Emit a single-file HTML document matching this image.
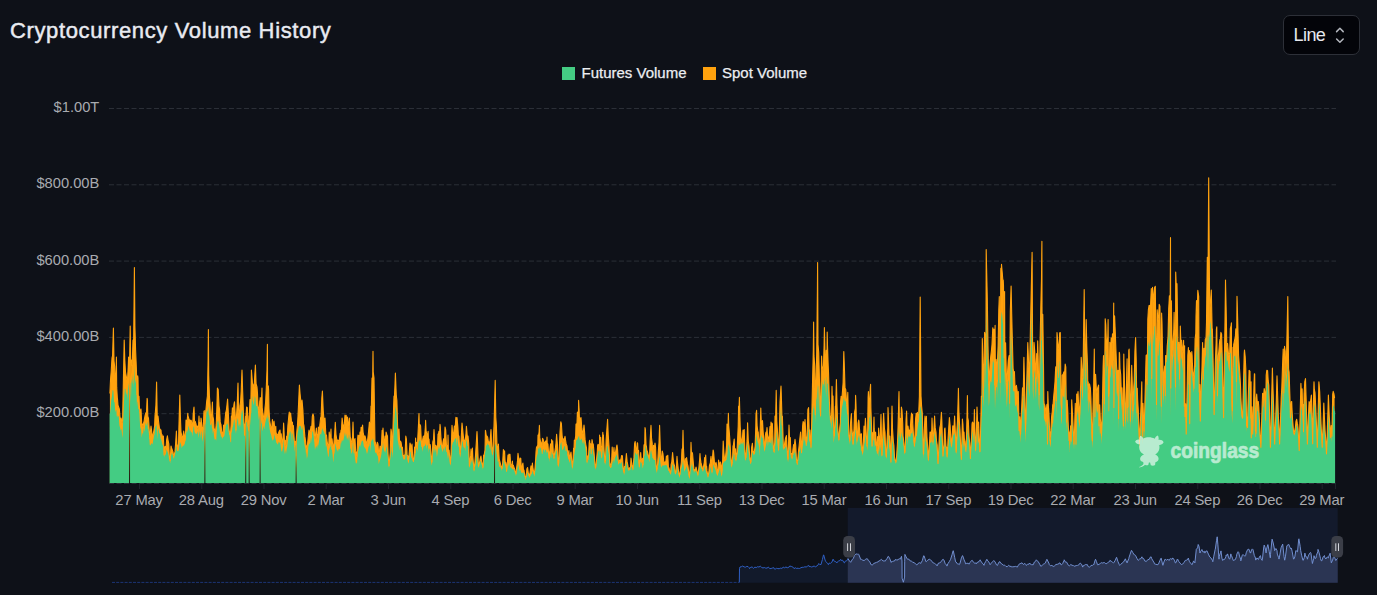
<!DOCTYPE html>
<html><head><meta charset="utf-8"><title>Cryptocurrency Volume History</title>
<style>
html,body{margin:0;padding:0;background:#0e1118;}
body{width:1377px;height:595px;position:relative;overflow:hidden;font-family:"Liberation Sans",sans-serif;}
.ax{font-family:"Liberation Sans",sans-serif;font-size:14.7px;fill:#a9abb0;}
.xl{font-size:14.8px;letter-spacing:-0.18px;}
.title{position:absolute;left:10px;top:16.5px;font-size:22px;line-height:28px;color:#e9ebf1;letter-spacing:0.63px;-webkit-text-stroke:0.45px #e9ebf1;white-space:nowrap;}
.btn{position:absolute;left:1283px;top:15px;width:75px;height:38px;border:1px solid #2d3038;border-radius:7px;background:#030409;}
.btn span{position:absolute;left:9.6px;top:8px;font-size:18px;line-height:22px;color:#e6e8ee;letter-spacing:-0.6px;}
.btn svg{position:absolute;left:50.1px;top:10px;}
.lg{position:absolute;top:64px;font-size:15px;line-height:18px;color:#eceef2;white-space:nowrap;-webkit-text-stroke:0.25px #eceef2;}
.sq{position:absolute;top:67.4px;width:12.6px;height:12.4px;}
</style></head><body>
<svg width="1377" height="595" viewBox="0 0 1377 595" style="position:absolute;left:0;top:0">
<line x1="109" x2="1336" y1="108.5" y2="108.5" stroke="#2b2f37" stroke-width="1" stroke-dasharray="5 2.5"/>
<line x1="109" x2="1336" y1="184.8" y2="184.8" stroke="#2b2f37" stroke-width="1" stroke-dasharray="5 2.5"/>
<line x1="109" x2="1336" y1="261.1" y2="261.1" stroke="#2b2f37" stroke-width="1" stroke-dasharray="5 2.5"/>
<line x1="109" x2="1336" y1="337.4" y2="337.4" stroke="#2b2f37" stroke-width="1" stroke-dasharray="5 2.5"/>
<line x1="109" x2="1336" y1="413.7" y2="413.7" stroke="#2b2f37" stroke-width="1" stroke-dasharray="5 2.5"/>
<line x1="109" x2="1336" y1="483.5" y2="483.5" stroke="#2b2f37" stroke-width="1" stroke-dasharray="5 2.5"/>
<text x="99.3" y="111.9" text-anchor="end" class="ax">$1.00T</text>
<text x="99.3" y="188.2" text-anchor="end" class="ax">$800.00B</text>
<text x="99.3" y="264.5" text-anchor="end" class="ax">$600.00B</text>
<text x="99.3" y="340.8" text-anchor="end" class="ax">$400.00B</text>
<text x="99.3" y="417.1" text-anchor="end" class="ax">$200.00B</text>
<line x1="139.5" x2="139.5" y1="483.5" y2="489" stroke="#20242c" stroke-width="1"/>
<text x="139.1" y="504.9" text-anchor="middle" class="ax xl">27 May</text>
<line x1="201.8" x2="201.8" y1="483.5" y2="489" stroke="#20242c" stroke-width="1"/>
<text x="201.3" y="504.9" text-anchor="middle" class="ax xl">28 Aug</text>
<line x1="264.0" x2="264.0" y1="483.5" y2="489" stroke="#20242c" stroke-width="1"/>
<text x="263.6" y="504.9" text-anchor="middle" class="ax xl">29 Nov</text>
<line x1="326.2" x2="326.2" y1="483.5" y2="489" stroke="#20242c" stroke-width="1"/>
<text x="325.9" y="504.9" text-anchor="middle" class="ax xl">2 Mar</text>
<line x1="388.5" x2="388.5" y1="483.5" y2="489" stroke="#20242c" stroke-width="1"/>
<text x="388.1" y="504.9" text-anchor="middle" class="ax xl">3 Jun</text>
<line x1="450.8" x2="450.8" y1="483.5" y2="489" stroke="#20242c" stroke-width="1"/>
<text x="450.4" y="504.9" text-anchor="middle" class="ax xl">4 Sep</text>
<line x1="513.0" x2="513.0" y1="483.5" y2="489" stroke="#20242c" stroke-width="1"/>
<text x="512.6" y="504.9" text-anchor="middle" class="ax xl">6 Dec</text>
<line x1="575.2" x2="575.2" y1="483.5" y2="489" stroke="#20242c" stroke-width="1"/>
<text x="574.9" y="504.9" text-anchor="middle" class="ax xl">9 Mar</text>
<line x1="637.5" x2="637.5" y1="483.5" y2="489" stroke="#20242c" stroke-width="1"/>
<text x="637.1" y="504.9" text-anchor="middle" class="ax xl">10 Jun</text>
<line x1="699.8" x2="699.8" y1="483.5" y2="489" stroke="#20242c" stroke-width="1"/>
<text x="699.4" y="504.9" text-anchor="middle" class="ax xl">11 Sep</text>
<line x1="762.0" x2="762.0" y1="483.5" y2="489" stroke="#20242c" stroke-width="1"/>
<text x="761.6" y="504.9" text-anchor="middle" class="ax xl">13 Dec</text>
<line x1="824.2" x2="824.2" y1="483.5" y2="489" stroke="#20242c" stroke-width="1"/>
<text x="823.9" y="504.9" text-anchor="middle" class="ax xl">15 Mar</text>
<line x1="886.5" x2="886.5" y1="483.5" y2="489" stroke="#20242c" stroke-width="1"/>
<text x="886.1" y="504.9" text-anchor="middle" class="ax xl">16 Jun</text>
<line x1="948.8" x2="948.8" y1="483.5" y2="489" stroke="#20242c" stroke-width="1"/>
<text x="948.4" y="504.9" text-anchor="middle" class="ax xl">17 Sep</text>
<line x1="1011.0" x2="1011.0" y1="483.5" y2="489" stroke="#20242c" stroke-width="1"/>
<text x="1010.6" y="504.9" text-anchor="middle" class="ax xl">19 Dec</text>
<line x1="1073.2" x2="1073.2" y1="483.5" y2="489" stroke="#20242c" stroke-width="1"/>
<text x="1072.8" y="504.9" text-anchor="middle" class="ax xl">22 Mar</text>
<line x1="1135.5" x2="1135.5" y1="483.5" y2="489" stroke="#20242c" stroke-width="1"/>
<text x="1135.1" y="504.9" text-anchor="middle" class="ax xl">23 Jun</text>
<line x1="1197.8" x2="1197.8" y1="483.5" y2="489" stroke="#20242c" stroke-width="1"/>
<text x="1197.3" y="504.9" text-anchor="middle" class="ax xl">24 Sep</text>
<line x1="1260.0" x2="1260.0" y1="483.5" y2="489" stroke="#20242c" stroke-width="1"/>
<text x="1259.6" y="504.9" text-anchor="middle" class="ax xl">26 Dec</text>
<line x1="1322.2" x2="1322.2" y1="483.5" y2="489" stroke="#20242c" stroke-width="1"/>
<text x="1321.8" y="504.9" text-anchor="middle" class="ax xl">29 Mar</text>
<line x1="1335.5" x2="1335.5" y1="483.5" y2="489" stroke="#20242c" stroke-width="1"/>
<path d="M109.9 483.0L109.9 393.6L110.5 380.0L111.2 371.5L112.0 358.0L112.6 355.6L113.4 328.0L114.0 361.0L114.6 366.0L115.3 382.2L116.0 374.5L116.4 357.0L116.7 387.4L117.3 397.6L117.6 400.0L118.0 405.3L118.7 407.2L119.0 408.0L119.4 409.3L120.1 419.0L120.7 421.7L121.0 418.0L121.4 419.4L122.1 423.2L122.6 420.0L123.4 380.0L124.2 340.0L124.8 360.0L125.5 372.0L126.2 376.0L127.0 380.0L127.5 379.8L128.2 367.4L128.6 357.0L128.9 363.9L129.4 372.0L130.2 326.0L130.9 378.0L131.5 360.0L132.2 365.4L133.0 340.0L133.6 346.3L134.4 267.6L134.9 325.8L135.6 350.0L136.4 369.0L137.0 394.4L137.7 375.8L138.0 378.0L138.3 397.9L139.0 396.2L139.4 406.0L139.7 411.9L140.4 411.2L141.0 409.0L141.7 423.6L142.4 424.0L143.1 427.6L143.8 421.7L144.0 422.0L144.4 419.1L145.0 416.0L145.8 412.8L146.5 412.9L147.1 398.3L147.4 400.0L147.8 416.1L148.5 418.3L149.0 426.0L149.8 438.3L150.5 431.2L151.0 426.0L152.0 434.0L152.6 438.9L153.2 434.2L154.0 430.0L154.6 426.3L155.0 416.0L155.3 412.7L155.9 405.4L156.6 382.0L157.3 420.0L158.0 416.0L158.6 421.7L159.4 428.0L160.0 429.1L160.7 430.2L161.0 430.0L161.3 433.7L162.0 434.6L162.7 440.9L163.0 436.0L163.4 436.0L164.1 454.9L164.7 446.8L165.0 452.0L165.4 446.4L166.1 447.7L166.6 440.0L167.4 435.8L168.0 440.0L168.8 443.8L169.4 458.0L170.2 460.4L171.0 446.0L171.5 447.7L172.2 449.7L173.0 452.0L173.5 454.9L174.2 455.6L175.0 451.4L175.6 443.9L176.4 431.0L176.9 443.9L177.4 446.0L178.4 448.7L178.9 427.2L179.8 395.0L180.3 414.3L181.0 432.0L181.7 435.5L182.3 439.2L183.0 436.0L183.7 431.0L184.4 439.6L184.6 442.0L185.1 435.0L185.7 431.0L186.0 420.0L186.4 420.6L187.1 421.3L187.8 413.4L188.0 416.0L188.4 417.1L189.1 419.7L190.0 420.0L190.5 421.8L191.1 420.2L192.0 424.0L192.5 430.6L193.2 414.2L194.0 407.0L194.5 421.3L195.2 421.4L196.0 424.0L196.6 427.4L197.4 426.0L197.9 429.3L198.6 425.6L199.0 416.0L199.3 423.6L199.9 422.8L200.6 430.8L201.0 418.0L201.3 420.0L202.0 426.8L202.6 430.0L203.3 426.5L204.0 411.0L204.7 415.8L205.4 414.7L206.0 409.0L206.7 401.4L207.4 396.0L208.1 359.7L208.4 329.6L208.7 374.9L209.4 396.0L210.1 404.9L210.8 424.2L211.0 422.1L211.4 416.8L212.1 407.8L212.4 402.0L212.8 415.9L213.5 419.3L214.0 428.0L214.8 430.6L215.4 432.0L216.2 424.4L216.9 406.7L217.4 388.0L218.2 389.5L219.0 406.0L219.6 409.7L220.2 421.9L220.6 424.0L220.9 424.1L221.6 430.8L222.3 433.4L223.0 434.2L223.6 425.0L224.3 429.9L225.0 420.0L225.7 412.7L226.3 410.7L227.0 404.8L227.6 399.0L228.4 414.5L229.1 429.5L229.4 432.0L229.7 431.9L230.4 434.7L231.1 424.8L231.4 416.0L231.8 417.3L232.4 407.8L233.1 412.2L234.0 404.0L234.5 401.8L235.2 414.5L236.0 430.0L236.5 415.8L237.2 404.4L238.0 383.0L238.5 409.7L239.4 416.0L239.9 405.7L240.6 401.6L241.2 391.4L242.0 370.0L242.6 389.7L243.4 412.0L243.9 420.4L244.6 435.3L245.0 424.0L245.3 425.0L246.0 415.6L246.6 407.0L247.3 407.6L248.0 426.0L248.7 423.5L249.4 414.0L250.0 399.6L250.7 412.7L251.4 370.0L252.1 378.6L252.8 388.2L253.0 384.0L253.4 390.4L254.1 386.9L254.8 375.3L255.4 365.0L256.1 383.9L257.0 387.0L257.5 393.5L258.0 406.0L258.8 411.4L259.4 406.0L260.2 397.6L260.9 399.3L261.6 397.5L262.0 388.0L262.2 407.7L262.9 413.0L263.4 416.0L264.3 421.7L265.0 408.0L265.6 402.6L266.2 390.0L267.0 369.7L267.4 344.4L267.6 385.4L268.3 385.9L268.6 390.0L269.0 409.0L269.7 420.9L270.4 424.9L271.0 428.0L271.7 429.0L272.4 419.5L273.1 427.8L273.7 423.6L274.0 421.0L274.4 424.7L275.1 431.4L275.8 426.4L276.0 432.0L276.4 434.1L277.1 435.4L278.0 434.0L278.5 432.9L279.1 431.4L280.0 430.0L280.5 436.6L281.2 433.9L282.0 444.0L282.5 442.1L283.2 435.2L283.6 423.0L283.9 427.8L284.6 445.0L285.2 440.3L286.0 446.0L286.6 436.4L287.3 435.7L287.9 425.4L288.6 418.3L289.0 414.0L289.3 412.1L290.0 419.9L290.6 413.0L291.3 419.6L292.0 431.4L292.4 422.0L292.7 426.1L293.4 425.6L294.0 436.0L294.7 446.3L295.4 441.4L296.0 443.4L296.8 431.8L297.4 425.9L298.0 416.0L298.8 398.8L299.4 385.0L300.1 394.0L300.8 400.9L301.5 410.7L302.0 400.0L302.9 410.1L303.5 424.0L304.0 426.0L304.9 436.4L305.6 441.6L306.0 446.0L306.2 445.4L306.9 449.1L307.6 443.5L308.3 436.5L309.0 430.0L309.6 433.6L310.3 431.6L311.0 426.2L311.6 431.0L312.3 416.3L313.0 414.0L313.7 416.6L314.4 433.8L315.0 440.0L315.7 433.2L316.4 428.1L317.1 440.8L317.7 434.5L318.0 434.0L318.4 427.0L319.1 432.6L319.8 425.2L320.6 418.0L321.1 416.8L321.8 398.4L322.4 391.0L323.2 410.2L324.0 420.0L324.5 422.7L325.0 418.0L325.9 435.4L326.5 435.0L327.2 441.8L328.0 446.0L328.6 450.0L329.2 432.0L329.9 437.3L330.6 436.0L331.0 429.0L331.3 443.2L332.0 438.9L332.6 444.0L333.0 446.0L333.3 452.1L334.0 442.4L334.7 433.1L335.3 422.3L335.6 428.0L336.0 434.5L336.7 439.1L337.4 440.2L338.0 442.0L338.7 440.2L339.4 439.6L340.1 433.3L340.8 432.9L341.0 430.0L341.4 431.6L342.1 418.0L342.8 423.9L343.5 426.6L344.1 426.8L345.0 415.0L345.5 422.3L346.2 415.4L347.0 424.0L347.5 417.0L348.2 427.4L348.9 422.5L349.4 418.0L350.2 437.1L350.9 438.7L351.4 442.0L352.3 442.9L353.0 422.0L353.6 442.1L354.3 440.5L355.0 438.6L355.6 450.9L356.0 452.0L356.3 454.9L357.0 456.4L357.7 438.4L358.0 435.0L358.4 442.9L359.0 435.6L359.7 438.2L360.0 432.0L360.4 439.1L361.1 427.3L361.7 429.3L362.6 425.0L363.1 432.3L363.8 435.6L364.4 436.8L365.0 436.0L365.8 439.4L366.5 443.4L367.0 444.0L367.8 438.6L368.5 432.0L369.4 422.0L369.9 424.3L370.6 428.7L371.0 406.0L371.2 414.1L372.0 378.0L372.6 387.2L373.0 351.2L373.2 371.8L374.0 378.0L374.6 420.0L375.0 444.0L375.3 441.9L376.0 446.0L376.6 447.2L377.3 442.2L378.0 444.0L378.7 454.0L379.4 451.9L380.0 446.0L380.7 447.4L381.4 445.9L382.1 430.4L382.7 434.7L383.0 428.0L383.4 435.5L384.1 443.1L384.8 441.1L385.0 436.0L385.4 446.0L386.1 432.1L387.0 435.0L387.5 436.2L388.1 454.2L389.0 466.0L389.5 460.3L390.2 452.9L391.0 429.0L391.5 432.0L392.4 452.0L392.9 431.5L393.6 407.2L394.0 396.0L394.2 401.3L394.9 386.7L395.4 373.0L396.3 395.9L396.6 398.0L396.9 400.6L397.6 425.5L398.0 432.0L398.3 440.7L399.0 429.0L399.7 444.3L400.3 441.0L401.0 442.0L401.7 446.7L402.4 447.3L403.0 454.8L403.7 456.7L404.0 456.0L404.4 455.4L405.1 454.4L405.8 436.1L406.4 439.0L407.1 455.3L407.8 455.7L408.4 462.0L409.1 454.9L410.0 443.0L410.5 444.8L411.2 449.1L412.0 444.0L412.5 453.8L413.0 460.0L413.9 459.6L414.6 447.0L415.2 452.7L415.6 438.0L415.9 447.7L416.6 442.2L417.0 444.8L417.3 449.3L417.9 435.5L418.6 422.4L419.0 413.6L419.3 427.1L420.0 424.6L420.6 426.0L421.3 440.8L422.0 441.1L422.4 446.0L422.7 439.4L423.4 436.2L424.0 436.0L424.7 435.3L425.4 426.4L425.6 420.4L426.1 431.1L426.7 433.1L427.0 438.0L427.4 438.8L428.1 431.3L428.8 447.5L429.0 439.0L429.4 445.8L430.1 444.5L430.4 446.0L430.8 451.5L431.5 462.3L432.0 462.0L432.8 442.0L433.5 439.4L434.0 429.6L434.9 447.2L435.5 445.3L436.0 446.0L436.9 446.3L437.6 445.1L438.0 434.0L438.2 436.7L438.9 431.3L439.6 435.2L440.0 424.4L440.3 426.7L440.9 437.0L441.6 446.0L442.3 448.4L443.0 442.0L443.7 438.7L444.3 443.2L445.0 427.0L445.7 429.8L446.4 444.7L447.0 446.0L447.7 452.0L448.0 435.0L448.4 451.1L449.1 450.1L449.8 458.3L450.4 464.0L451.1 452.2L452.0 425.4L452.5 431.8L453.1 434.3L453.6 434.0L454.4 426.0L455.2 426.8L455.9 417.3L456.5 432.5L457.0 417.6L457.9 427.3L458.6 440.1L459.0 436.0L459.2 440.0L460.0 454.0L460.6 447.7L461.3 436.7L462.0 423.0L462.6 428.9L463.3 436.1L464.0 440.0L464.6 440.6L465.3 440.4L466.0 433.5L466.4 426.4L466.7 429.2L467.4 437.8L468.0 436.0L468.7 443.2L469.4 466.0L470.1 460.1L470.7 455.4L471.0 449.0L471.4 458.1L472.1 453.6L472.4 448.0L472.8 456.7L473.4 462.9L474.0 470.0L474.8 463.6L475.5 455.6L476.2 444.4L477.0 431.6L477.5 442.2L478.4 466.0L478.9 463.1L479.5 462.9L480.2 458.7L481.0 456.0L481.6 461.4L482.2 464.1L483.0 467.3L483.6 455.3L484.3 454.2L485.0 450.0L485.4 430.4L485.6 430.9L486.3 435.8L487.0 436.0L487.7 437.4L488.3 441.4L489.0 442.0L489.7 444.0L490.4 437.6L491.0 429.6L491.7 446.8L492.4 454.0L493.1 445.1L493.8 429.9L494.0 426.0L494.4 412.0L495.2 380.4L495.8 417.6L496.4 426.0L497.1 449.2L497.4 454.0L497.8 449.2L498.4 444.0L499.2 459.1L500.0 462.0L500.5 464.1L501.2 467.5L501.6 467.9L501.9 467.7L502.6 463.8L503.4 449.6L503.9 453.7L504.6 450.9L505.0 460.0L505.3 462.5L505.9 462.5L506.4 468.0L506.6 471.2L507.3 463.5L508.0 455.0L508.6 462.4L509.0 454.0L509.3 457.2L510.0 454.4L510.7 464.9L511.0 466.0L511.4 464.8L512.0 464.5L512.4 461.0L512.7 465.1L513.4 465.3L514.1 467.9L514.4 468.0L514.8 470.0L515.4 472.4L516.0 473.2L516.8 466.4L517.5 460.9L518.0 453.4L518.8 459.7L519.5 464.3L520.0 458.0L520.8 458.5L521.4 471.0L522.4 465.0L522.9 463.1L523.5 470.4L524.0 470.0L524.2 471.8L524.9 475.7L525.6 477.4L526.2 475.8L526.9 468.8L527.6 467.6L528.3 473.0L529.0 474.4L529.6 476.4L530.3 470.6L531.0 465.9L531.7 471.4L532.4 463.0L533.0 468.7L533.7 471.8L534.4 473.9L535.1 467.4L535.7 458.3L536.0 452.0L536.4 447.7L537.1 446.3L537.8 445.4L538.0 435.0L538.4 437.2L539.1 431.6L539.4 425.4L539.8 438.2L540.5 441.4L541.0 442.0L541.8 449.9L542.5 438.3L543.0 439.0L543.9 442.7L544.5 444.9L545.0 442.0L545.9 440.9L546.6 446.2L547.0 437.0L547.2 443.5L547.9 444.0L548.6 453.3L549.0 452.0L549.3 458.2L550.0 448.4L550.6 443.9L551.3 451.1L551.6 439.6L552.0 445.3L552.7 440.8L553.3 452.9L554.0 458.0L554.7 452.5L555.4 447.9L556.0 443.0L556.6 434.4L557.4 444.6L558.1 465.1L558.4 464.8L558.8 462.6L559.4 446.5L560.0 432.0L560.8 421.7L561.4 423.6L562.1 435.5L563.0 442.0L563.5 438.9L564.2 439.9L565.0 436.4L565.5 439.9L566.2 443.9L567.0 446.0L567.5 451.2L568.4 456.0L568.9 450.5L569.6 460.9L570.3 455.4L571.0 452.0L571.6 459.0L572.4 467.3L573.0 460.1L573.6 448.1L574.0 450.0L574.3 440.2L575.0 440.5L575.7 435.9L576.0 424.0L576.4 426.1L577.0 422.7L577.4 412.0L577.7 416.4L578.4 414.5L578.6 400.4L579.1 409.5L579.7 426.3L580.0 418.0L580.4 423.7L581.0 417.6L581.8 428.2L582.4 432.0L583.1 434.3L584.0 425.0L584.5 430.8L585.1 439.9L586.0 446.0L586.5 448.0L587.0 462.0L587.9 455.8L588.5 456.2L589.2 442.6L589.6 440.4L589.9 443.9L590.6 443.7L591.0 446.0L591.2 453.4L592.0 439.6L592.6 442.9L593.3 444.5L594.0 452.0L594.6 459.6L595.3 467.1L595.6 467.8L596.0 465.7L596.7 457.8L597.3 451.5L597.6 446.0L598.0 444.3L598.7 445.1L599.4 450.1L599.6 435.0L600.0 443.1L600.7 437.3L601.0 450.0L601.4 447.0L602.1 446.6L602.8 432.4L603.0 435.6L603.4 435.0L604.1 450.5L605.0 462.4L605.5 460.9L606.1 440.3L606.4 436.0L606.8 430.4L607.6 419.2L608.2 434.6L609.0 446.0L609.5 456.7L610.0 466.0L610.9 464.5L611.6 462.1L612.0 452.0L612.2 447.0L612.9 460.2L613.6 452.6L614.0 447.6L614.3 456.8L614.9 452.4L615.6 452.0L616.3 447.8L617.0 445.0L617.6 450.0L618.3 461.2L619.0 462.0L619.7 459.9L620.4 461.0L621.0 459.0L621.6 455.6L622.4 455.8L623.1 467.6L623.7 472.0L624.0 472.1L624.4 466.6L625.1 466.3L625.8 460.1L626.4 453.6L627.1 461.4L627.8 465.1L628.4 469.3L629.2 468.2L629.8 467.8L630.5 467.2L631.0 458.0L631.9 464.4L632.5 467.5L633.0 469.2L633.2 466.0L633.9 457.9L634.6 443.6L635.2 441.5L636.0 452.3L636.6 449.8L637.3 442.8L637.6 443.0L638.0 452.0L638.6 450.4L639.0 462.7L639.3 466.6L640.0 460.8L640.7 452.6L641.0 457.0L641.4 459.3L642.0 461.8L642.7 458.2L643.0 464.8L643.4 460.9L644.0 444.7L644.7 446.9L645.0 427.6L645.4 429.7L646.1 445.4L646.4 446.0L646.8 450.1L647.4 451.5L648.1 454.4L649.0 456.0L649.5 457.3L650.1 441.3L651.0 425.4L651.5 437.8L652.2 443.1L652.4 454.0L652.9 452.5L653.5 445.4L654.2 449.0L655.0 443.0L655.6 447.6L656.2 466.5L656.6 470.0L656.9 468.7L657.6 463.8L658.0 457.0L658.3 451.5L659.0 442.8L659.6 425.4L660.3 447.5L661.0 459.0L661.4 466.0L661.6 461.2L662.3 451.1L663.0 454.0L663.7 461.4L664.4 463.6L665.0 461.7L665.7 463.1L666.4 456.0L667.0 457.0L667.8 455.2L668.4 466.7L669.0 468.0L669.8 471.3L670.6 473.3L671.1 464.7L671.8 461.8L672.6 452.6L673.2 459.0L673.8 463.7L674.6 466.0L675.2 473.0L676.0 472.3L676.5 466.0L677.0 456.4L677.2 459.5L677.9 466.1L678.6 471.7L679.4 475.1L679.9 474.4L680.6 467.8L681.4 462.0L682.0 448.9L682.6 448.7L683.0 430.4L683.3 445.0L684.0 458.4L684.6 470.0L685.4 458.9L686.0 459.0L686.6 457.6L687.4 463.9L688.0 466.0L688.7 471.7L689.4 477.1L690.1 469.0L690.8 453.5L691.0 442.4L691.4 453.4L692.1 452.4L692.6 454.0L693.5 465.1L694.0 470.0L694.8 469.8L695.5 469.7L696.0 467.0L696.9 470.8L697.5 473.5L698.0 474.3L698.9 467.6L699.6 459.7L700.0 453.6L700.2 457.3L700.9 462.2L701.6 465.5L702.0 466.0L702.3 468.8L703.0 470.0L703.6 466.0L704.3 462.2L704.6 457.6L705.0 462.3L705.7 455.0L706.3 467.8L706.6 466.0L707.0 470.9L707.7 474.7L708.0 475.9L708.4 474.9L709.0 470.5L709.4 466.0L709.7 464.8L710.4 462.4L711.0 456.4L711.8 469.4L712.0 472.0L712.4 459.1L713.1 450.0L713.6 452.0L714.5 462.7L715.0 466.0L716.0 462.4L716.5 464.8L717.2 473.5L717.4 474.0L717.9 470.6L718.6 460.0L719.2 464.1L720.0 463.0L720.5 462.1L721.2 465.4L721.6 474.8L721.9 470.8L722.6 461.9L723.2 441.0L723.9 453.1L724.6 459.5L725.3 458.5L726.0 452.0L726.6 445.4L727.0 424.0L727.3 440.0L728.0 425.6L728.4 413.4L728.7 425.6L729.4 433.2L730.0 442.0L730.7 455.4L731.6 466.0L732.1 461.4L732.7 455.8L733.0 446.0L733.4 445.1L734.2 439.0L734.8 454.3L735.5 448.8L736.0 460.0L737.0 452.0L737.5 441.4L738.2 426.4L738.6 406.0L738.8 414.5L739.4 397.4L740.2 426.6L740.6 432.0L740.9 437.1L741.4 441.0L742.2 441.2L743.0 430.0L743.6 431.3L744.2 429.6L744.9 450.4L745.6 457.7L746.0 457.3L746.3 452.6L747.0 440.9L747.4 429.6L747.6 422.7L748.3 441.0L749.0 446.0L749.7 456.4L750.4 461.2L751.0 462.1L751.6 447.6L752.4 443.2L753.0 450.9L753.4 451.6L753.7 453.7L754.6 450.0L755.1 446.1L755.8 426.2L756.0 414.0L756.6 410.4L757.1 425.7L757.8 431.2L758.2 432.0L758.5 436.7L759.1 441.7L759.4 446.0L759.8 445.0L760.5 418.5L760.8 408.0L761.2 419.7L762.0 430.0L762.5 420.5L763.0 429.6L763.9 442.3L764.6 450.0L765.2 436.1L766.0 432.0L766.6 434.1L767.0 427.6L767.3 432.2L767.9 441.4L768.6 438.0L769.3 435.1L769.6 432.0L770.0 426.6L770.6 432.1L771.0 422.0L771.3 436.6L772.0 423.1L772.4 424.0L772.7 431.7L773.4 449.1L774.0 449.9L774.7 442.5L775.0 416.0L775.4 430.4L776.2 390.4L776.8 421.1L777.4 430.0L778.1 443.5L778.6 450.0L779.5 426.3L780.0 402.0L781.0 386.0L781.5 401.1L782.2 424.9L782.4 416.0L782.8 429.4L783.4 448.0L784.2 446.2L785.0 441.0L785.5 438.3L786.4 435.6L786.9 445.0L787.6 456.8L788.0 459.2L788.2 458.5L789.0 425.0L789.6 440.8L790.3 437.6L790.6 446.0L791.0 454.3L791.6 453.7L792.0 458.0L792.3 455.8L793.0 448.8L793.4 446.0L793.7 444.6L794.4 445.0L795.0 439.4L795.7 445.0L796.4 459.0L797.0 462.7L797.7 460.1L798.6 450.0L799.1 445.9L799.8 439.1L800.6 432.0L801.1 445.9L801.6 452.4L802.6 426.0L803.1 421.6L804.0 423.0L804.5 432.3L805.0 419.6L805.9 436.3L806.6 442.0L807.2 435.7L807.9 409.4L808.6 407.6L809.2 431.4L810.0 430.0L810.6 441.5L811.0 447.2L811.3 441.8L812.0 406.0L812.6 378.9L813.3 350.2L813.6 322.0L814.0 355.9L814.7 365.8L815.3 414.6L815.6 404.0L816.0 380.1L816.7 354.1L817.4 289.8L817.6 262.6L818.0 344.6L818.7 352.1L819.4 378.0L820.1 408.7L820.6 415.6L821.6 356.0L822.1 368.1L822.8 367.4L823.0 372.0L823.5 364.5L824.1 345.1L824.4 327.6L824.8 344.0L825.5 379.7L825.8 368.0L826.2 350.4L826.8 376.2L827.2 332.0L827.5 345.4L828.2 365.8L828.5 372.0L828.9 385.1L829.4 402.0L830.4 420.0L830.9 417.7L831.6 415.2L832.0 386.4L832.3 398.1L833.0 396.0L833.6 426.6L834.4 436.0L835.0 419.6L835.4 406.0L835.6 409.9L836.4 379.6L837.0 404.3L837.4 416.0L837.7 426.7L838.4 435.8L839.0 439.6L839.7 427.7L840.4 422.4L840.6 402.0L841.1 396.3L841.7 401.6L842.0 398.0L842.4 392.1L843.1 382.8L843.8 351.6L844.5 370.6L845.0 388.0L845.8 389.8L846.6 404.0L847.1 405.8L847.8 392.4L848.5 424.9L849.0 436.0L849.9 440.9L850.5 423.5L851.4 413.6L851.9 428.8L852.6 436.0L853.0 444.0L853.2 434.2L853.9 431.0L854.6 412.0L855.3 408.6L855.6 395.4L856.0 404.4L856.6 433.5L857.0 440.0L857.3 439.8L858.0 423.4L858.7 420.1L859.0 421.4L859.3 426.6L860.0 434.7L860.7 437.7L861.0 434.0L861.4 433.8L862.0 448.4L862.6 453.0L863.4 441.8L864.0 426.0L864.8 430.2L865.4 418.4L866.1 430.8L867.0 446.0L867.5 442.6L868.1 397.6L868.4 391.6L868.8 403.6L869.4 406.0L870.2 388.9L870.6 384.4L870.9 408.3L871.5 425.2L872.0 446.0L872.9 432.4L873.6 431.8L874.0 417.0L874.2 428.4L874.9 439.0L875.6 432.0L876.3 443.1L877.0 450.8L877.6 436.6L878.3 445.8L878.6 428.0L879.0 434.8L879.6 442.4L880.0 440.0L880.3 435.2L881.0 414.4L881.7 447.1L882.0 455.2L882.4 446.5L883.0 428.7L883.6 413.4L884.4 428.3L885.0 432.0L885.7 451.4L886.4 457.0L887.1 439.4L887.8 427.8L888.0 407.6L888.5 419.9L889.1 438.8L889.4 440.0L889.8 436.0L890.5 450.8L891.0 462.0L892.0 406.0L892.5 428.6L893.4 442.0L893.9 445.6L894.5 457.3L895.2 460.4L896.0 462.0L896.6 456.1L897.4 444.0L897.9 431.2L898.6 406.7L899.0 391.6L899.3 418.2L900.0 418.2L900.6 436.0L901.4 407.0L902.0 410.2L902.7 423.2L903.0 436.0L903.3 438.1L904.0 443.8L904.7 452.7L905.0 452.0L905.4 444.6L906.0 420.5L906.6 411.0L907.4 437.4L908.0 426.0L908.8 433.0L909.4 430.0L910.1 431.4L911.0 418.0L911.5 413.1L912.1 422.6L912.6 414.4L912.8 423.7L913.5 435.3L914.2 442.1L914.4 446.0L914.9 438.0L915.6 419.0L916.2 413.4L916.9 417.2L917.4 412.4L918.2 421.7L918.6 417.5L918.9 408.2L919.4 396.0L920.2 297.0L921.0 396.0L921.6 406.0L922.3 413.1L923.0 441.4L923.4 454.0L923.6 453.9L924.3 429.8L925.0 416.0L925.7 426.0L926.4 416.3L926.6 426.0L927.0 437.3L927.7 447.7L928.4 460.0L929.1 448.9L929.8 437.4L930.0 432.0L930.4 434.1L931.1 431.9L931.8 430.2L932.0 418.0L932.5 432.1L933.0 442.0L933.8 430.6L934.6 416.0L935.2 427.9L936.0 432.0L936.5 440.8L937.2 445.0L938.0 463.4L938.5 454.4L939.2 439.5L939.6 430.0L939.9 427.3L940.6 424.3L941.4 412.4L941.9 422.1L942.6 446.7L943.0 456.0L943.3 451.4L944.0 444.5L944.6 429.1L945.0 428.0L945.3 435.5L946.0 446.5L946.7 447.3L947.0 456.3L947.4 454.4L948.0 439.9L948.7 428.6L949.4 417.6L950.1 425.0L950.7 437.4L951.4 446.0L952.1 436.2L952.8 425.9L953.0 426.0L953.4 427.2L954.1 425.3L954.6 416.0L955.5 435.6L956.1 452.3L956.4 450.0L956.8 432.2L957.5 421.1L958.2 397.3L958.4 388.4L958.9 411.3L959.5 423.6L960.0 430.0L960.9 451.6L961.4 459.3L962.4 419.0L962.9 424.4L963.6 439.5L964.0 432.0L964.3 438.3L965.0 441.4L965.6 450.0L966.3 443.8L967.0 415.9L967.4 395.6L967.7 417.7L968.3 420.5L969.0 436.0L969.7 443.2L970.4 458.5L970.6 452.4L971.0 446.7L971.7 434.6L972.0 424.0L972.4 422.1L973.1 423.1L973.8 433.8L974.4 409.6L975.1 438.6L975.6 450.3L976.5 428.3L977.0 407.0L977.8 427.6L978.6 422.0L979.2 437.9L980.0 451.4L980.5 435.1L981.4 396.0L981.9 396.7L982.3 338.5L982.5 345.1L983.2 379.5L983.6 388.3L983.9 371.1L984.6 332.3L985.3 336.9L985.9 359.3L986.2 249.5L986.6 268.1L987.3 298.4L988.0 345.6L988.8 384.8L989.3 377.4L990.0 365.1L990.5 358.8L991.4 350.9L992.0 344.5L992.8 327.7L993.4 331.6L994.1 329.2L994.7 384.9L995.1 325.4L995.4 389.8L996.1 359.4L996.8 368.0L997.0 381.6L997.5 360.6L998.1 345.7L998.8 309.5L999.3 296.5L1000.2 382.4L1000.8 268.4L1001.3 274.6L1001.5 264.4L1002.2 272.3L1002.9 280.8L1003.2 280.0L1003.5 285.6L1004.2 357.6L1004.6 291.6L1004.9 371.0L1005.6 342.8L1006.2 368.7L1006.5 381.7L1006.9 382.4L1007.6 371.0L1008.3 360.5L1009.1 355.5L1009.6 403.2L1010.3 311.3L1011.1 286.1L1011.7 313.7L1012.3 338.3L1013.1 368.6L1013.7 372.1L1014.4 371.6L1015.0 386.2L1015.7 388.3L1016.4 385.3L1017.1 390.6L1017.8 395.9L1018.3 391.6L1019.1 430.4L1019.8 416.7L1020.6 434.1L1021.1 418.7L1021.8 404.5L1022.5 387.9L1023.2 395.4L1023.9 357.2L1024.5 382.7L1025.2 420.4L1025.5 430.9L1025.9 418.6L1026.6 387.9L1027.2 364.5L1027.8 342.6L1028.6 362.9L1029.5 375.1L1029.9 354.6L1030.6 320.2L1031.3 287.4L1032.1 252.2L1032.7 366.1L1033.3 376.8L1034.0 342.4L1034.7 350.7L1035.4 365.9L1036.0 378.4L1036.7 353.6L1037.4 355.9L1037.7 340.9L1038.1 355.7L1038.7 383.4L1039.3 394.8L1040.1 340.7L1040.8 307.4L1041.5 278.3L1041.9 241.2L1042.1 339.9L1042.8 314.4L1043.5 364.2L1043.9 401.4L1044.2 404.3L1044.8 405.1L1045.5 409.2L1045.8 414.5L1046.2 411.9L1046.9 404.2L1047.5 443.9L1047.8 391.6L1048.2 403.6L1048.9 413.1L1049.6 430.6L1050.1 440.6L1050.9 430.9L1051.6 416.8L1052.3 411.3L1052.7 404.6L1053.0 405.2L1053.6 397.5L1054.3 390.1L1055.0 381.7L1055.7 366.9L1056.3 400.8L1057.0 332.6L1057.7 341.6L1058.4 347.1L1059.0 349.0L1059.7 332.7L1060.3 332.6L1061.1 404.2L1061.8 409.1L1062.2 375.2L1063.1 374.5L1063.9 371.9L1064.5 375.3L1065.2 364.0L1065.8 367.0L1066.5 422.1L1067.2 400.3L1067.9 413.2L1068.1 421.1L1068.5 429.6L1069.2 432.7L1069.8 443.9L1070.6 425.9L1071.2 441.1L1071.7 399.8L1072.6 415.9L1073.3 431.0L1074.0 443.9L1074.6 428.6L1075.3 403.2L1076.0 444.3L1076.7 394.1L1077.3 398.8L1078.0 391.6L1078.7 406.1L1079.4 410.7L1079.6 414.5L1080.0 402.9L1080.7 382.9L1081.2 357.2L1082.1 372.1L1082.9 378.5L1083.4 346.3L1084.2 289.5L1084.8 347.9L1085.5 370.2L1086.2 319.6L1086.8 346.2L1087.5 365.2L1087.8 385.0L1088.2 381.7L1088.8 393.8L1089.5 383.8L1090.4 388.4L1090.9 398.8L1091.5 421.3L1092.4 440.7L1092.9 415.1L1093.6 388.7L1094.3 349.0L1094.9 416.8L1095.6 374.3L1096.3 388.2L1097.0 393.7L1097.6 388.2L1098.3 386.0L1098.6 385.1L1099.0 425.8L1099.7 404.8L1100.3 418.7L1101.0 424.5L1101.5 435.7L1102.4 404.9L1103.1 366.8L1103.5 355.6L1103.7 387.6L1104.4 403.7L1105.2 318.8L1105.8 324.8L1106.4 342.7L1106.8 355.5L1107.1 343.2L1107.8 336.2L1108.1 319.5L1108.5 396.2L1109.2 391.7L1109.8 342.3L1110.1 352.2L1110.5 352.8L1111.2 337.8L1112.0 342.4L1112.5 333.7L1113.2 360.2L1113.7 303.1L1113.9 407.5L1114.6 315.9L1115.3 332.6L1115.9 349.4L1116.6 366.8L1117.3 375.1L1118.0 370.3L1118.6 418.5L1119.3 352.4L1119.6 353.9L1120.0 368.5L1120.7 374.7L1121.5 398.0L1122.0 387.8L1122.7 408.2L1123.4 426.0L1123.8 354.0L1124.0 364.2L1124.7 391.2L1125.5 420.9L1126.1 404.0L1126.8 370.3L1127.1 358.9L1127.4 407.8L1128.1 406.5L1128.8 350.5L1129.1 349.0L1129.5 367.5L1130.1 404.0L1130.4 421.1L1130.8 404.5L1131.7 365.4L1132.2 381.0L1132.8 410.7L1133.7 388.2L1134.2 381.1L1134.9 351.4L1135.6 337.6L1136.2 358.9L1136.9 412.6L1137.3 388.3L1137.6 399.0L1138.3 410.0L1138.9 427.5L1139.5 440.6L1140.3 423.8L1141.0 406.1L1141.8 381.8L1142.3 436.3L1143.0 403.2L1143.7 422.5L1144.1 430.9L1145.0 399.1L1145.7 371.2L1146.1 355.5L1146.4 354.9L1147.1 384.2L1147.8 319.5L1148.4 309.5L1149.1 305.4L1149.4 309.7L1149.8 305.6L1150.5 306.8L1151.3 288.6L1151.8 378.5L1152.5 287.4L1153.3 296.5L1153.8 302.4L1154.5 287.8L1155.3 286.2L1155.9 340.5L1156.5 404.4L1157.2 309.7L1157.9 321.2L1158.6 316.7L1159.2 304.4L1159.9 306.1L1160.6 360.9L1161.3 406.2L1161.6 313.0L1162.0 322.3L1162.6 354.7L1163.3 385.0L1164.0 373.2L1164.7 366.1L1165.3 395.6L1165.6 355.5L1166.0 355.8L1166.7 358.3L1167.2 346.4L1168.0 337.0L1168.7 308.7L1169.2 300.0L1169.4 295.9L1170.1 316.9L1170.5 237.5L1170.8 387.9L1171.4 300.9L1172.1 355.3L1172.8 344.1L1173.5 334.5L1173.8 329.3L1174.1 312.2L1174.8 343.0L1175.5 386.9L1175.7 272.0L1176.2 284.9L1177.0 283.7L1177.5 316.2L1178.0 348.9L1178.9 342.3L1179.6 378.9L1180.3 326.1L1180.9 343.0L1181.6 340.4L1182.3 349.0L1183.0 352.8L1183.6 340.4L1184.3 406.3L1184.6 345.7L1185.0 416.5L1185.7 403.9L1186.2 434.0L1187.0 396.8L1187.8 355.6L1188.4 347.6L1189.0 383.9L1189.5 350.6L1189.7 423.6L1190.4 352.5L1191.1 362.0L1191.8 351.6L1192.1 355.5L1192.4 363.9L1193.1 372.0L1193.8 377.8L1194.1 375.1L1194.5 370.7L1195.1 338.9L1195.8 333.4L1196.0 316.3L1196.5 300.5L1197.2 310.8L1197.8 290.4L1198.7 296.3L1199.2 392.1L1199.9 384.5L1200.3 421.0L1200.5 415.1L1201.2 386.7L1201.9 370.2L1202.6 342.5L1203.3 379.2L1203.9 348.2L1204.6 355.5L1205.3 339.0L1206.0 338.6L1206.5 322.6L1207.3 257.2L1208.0 281.6L1208.7 177.7L1209.3 263.7L1209.8 322.3L1210.0 308.1L1210.7 300.2L1211.3 290.0L1212.1 328.3L1212.4 329.2L1212.7 342.5L1213.4 375.2L1214.1 414.4L1214.8 390.7L1215.4 360.0L1216.1 343.3L1216.4 329.4L1216.8 326.9L1217.5 395.7L1218.3 355.5L1218.8 351.6L1219.5 342.8L1220.0 339.2L1220.2 341.7L1220.9 332.4L1221.6 334.3L1222.2 355.8L1222.9 390.7L1223.6 417.6L1224.2 367.3L1224.9 328.9L1225.5 280.1L1226.3 316.4L1226.8 345.6L1227.6 343.5L1228.3 352.1L1228.8 355.5L1229.7 352.9L1230.3 328.7L1231.0 326.2L1231.4 322.8L1231.7 398.4L1232.4 410.6L1233.0 347.3L1233.4 355.5L1233.7 344.6L1234.4 341.1L1235.1 337.9L1235.4 335.9L1235.8 328.8L1236.4 381.4L1237.0 296.3L1237.8 324.1L1238.6 355.6L1239.1 362.7L1239.8 373.0L1240.5 385.4L1240.9 398.1L1241.2 403.9L1241.8 414.5L1242.6 417.7L1243.2 394.4L1243.9 366.5L1244.2 353.9L1244.5 350.1L1245.2 356.7L1245.8 368.8L1246.6 426.0L1247.3 416.8L1247.5 427.5L1247.9 407.4L1248.6 387.3L1249.1 370.3L1250.0 371.4L1250.7 417.9L1251.1 381.8L1251.3 437.7L1252.0 406.8L1252.7 434.0L1253.3 415.7L1254.0 383.9L1254.4 373.7L1254.7 373.9L1255.4 430.5L1256.1 433.2L1256.3 398.1L1256.7 394.1L1257.4 403.7L1258.3 401.5L1258.8 407.2L1259.5 421.9L1260.1 435.4L1260.9 447.2L1261.5 426.4L1262.2 403.3L1262.6 393.2L1262.8 394.6L1263.5 397.1L1264.2 388.5L1264.8 391.6L1265.5 419.9L1266.2 375.1L1266.8 370.3L1267.6 370.8L1268.2 380.7L1268.8 385.0L1269.6 414.9L1270.4 447.2L1271.0 428.0L1271.6 400.7L1272.4 368.1L1273.0 388.7L1273.7 409.2L1274.3 433.4L1274.7 444.0L1275.0 433.8L1275.7 416.9L1276.4 398.3L1277.0 375.9L1277.7 396.5L1278.4 417.4L1279.1 429.8L1279.6 443.9L1280.4 422.9L1281.2 398.2L1281.8 387.5L1282.5 366.6L1283.2 349.0L1283.8 392.8L1284.5 346.4L1285.2 351.1L1285.8 369.7L1286.2 375.0L1286.5 357.1L1287.2 325.5L1287.8 296.6L1288.6 369.2L1289.1 372.1L1289.9 396.5L1290.4 417.7L1291.3 401.7L1291.7 401.5L1291.9 407.1L1292.6 420.1L1293.3 428.5L1293.7 432.5L1294.0 433.4L1294.7 430.7L1295.3 428.2L1296.0 421.1L1296.7 419.3L1297.4 423.9L1297.6 424.3L1298.0 427.7L1298.7 439.5L1299.2 450.5L1300.1 416.2L1300.9 383.4L1301.4 394.1L1302.1 388.7L1302.8 414.8L1303.2 404.6L1303.5 431.6L1304.1 393.9L1304.8 381.7L1305.5 378.5L1306.2 400.5L1306.8 423.3L1307.4 443.9L1308.2 421.2L1309.1 401.5L1309.5 403.9L1310.2 403.7L1310.9 399.1L1311.4 395.0L1312.2 424.9L1312.7 443.8L1312.9 429.8L1313.6 397.1L1314.0 381.8L1314.3 389.2L1315.0 392.6L1315.6 404.8L1316.3 420.5L1317.0 437.0L1317.3 447.2L1317.7 434.0L1318.3 407.3L1318.9 381.8L1319.7 391.7L1320.5 411.2L1321.0 423.6L1321.7 436.6L1322.2 447.2L1322.4 439.8L1323.1 426.0L1323.8 403.1L1324.4 417.6L1325.1 431.0L1325.8 440.8L1326.5 453.8L1327.2 434.8L1327.8 415.4L1328.4 395.0L1329.2 415.2L1329.8 424.9L1330.4 437.4L1331.2 425.5L1331.9 436.2L1332.7 394.3L1333.2 391.4L1333.9 393.6L1334.6 398.1L1334.6 483.0Z" fill="#ffa20e"/>
<path d="M109.6 483.0L109.6 413.9L109.9 413.9L110.5 409.3L111.2 400.8L112.0 395.9L112.6 390.0L113.4 390.8L114.0 401.9L114.6 402.2L115.3 412.2L116.0 409.7L116.4 410.2L116.7 415.7L117.3 417.7L117.6 414.4L118.0 416.8L118.7 415.7L119.0 420.0L119.4 425.3L120.1 427.7L120.7 430.6L121.0 430.0L121.4 428.6L122.1 434.9L122.6 438.0L123.4 412.4L124.2 398.3L124.8 388.6L125.5 389.0L126.2 395.2L127.0 392.0L127.5 401.1L128.2 383.1L128.6 386.0L128.9 390.2L129.4 384.4L130.2 382.8L130.9 402.2L131.5 379.0L132.2 384.2L133.0 374.0L133.6 387.7L134.4 366.0L134.9 384.0L135.6 379.5L136.4 387.6L137.0 407.2L137.7 401.5L138.0 402.0L138.3 409.6L139.0 408.9L139.4 414.6L139.7 419.7L140.4 429.7L141.0 427.0L141.7 437.8L142.4 433.2L143.1 433.5L143.8 426.7L144.0 430.0L144.4 431.8L145.0 427.0L145.8 422.4L146.5 426.5L147.1 422.5L147.4 422.0L147.8 429.1L148.5 428.8L149.0 434.0L149.8 445.3L150.5 445.2L151.0 444.0L152.0 443.0L152.6 444.7L153.2 440.1L154.0 436.0L154.6 434.3L155.0 430.0L155.3 426.1L155.9 426.7L156.6 424.0L157.3 439.6L158.0 428.0L158.6 429.4L159.4 433.6L160.0 433.7L160.7 439.3L161.0 438.7L161.3 440.3L162.0 442.9L162.7 446.1L163.0 444.0L163.4 446.1L164.1 457.8L164.7 454.4L165.0 454.0L165.4 455.4L166.1 452.8L166.6 449.2L167.4 451.4L168.0 453.0L168.8 455.6L169.4 460.0L170.2 463.6L171.0 456.3L171.5 453.5L172.2 453.0L173.0 456.0L173.5 458.7L174.2 457.8L175.0 453.0L175.6 448.3L176.4 446.0L176.9 450.4L177.4 451.0L178.4 451.3L178.9 449.1L179.8 442.0L180.3 442.4L181.0 444.2L181.7 448.2L182.3 446.4L183.0 446.0L183.7 445.6L184.4 443.6L184.6 446.0L185.1 441.0L185.7 440.2L186.0 434.0L186.4 431.9L187.1 429.4L187.8 432.4L188.0 428.0L188.4 425.6L189.1 428.0L190.0 432.0L190.5 429.7L191.1 432.8L192.0 432.0L192.5 437.1L193.2 427.4L194.0 426.0L194.5 431.7L195.2 433.1L196.0 434.0L196.6 434.1L197.4 431.2L197.9 434.1L198.6 438.3L199.0 428.0L199.3 434.8L199.9 431.0L200.6 439.0L201.0 432.0L201.3 431.1L202.0 437.3L202.6 442.0L203.3 435.5L204.0 426.0L204.7 424.5L205.4 424.1L206.0 418.0L206.7 409.9L207.4 412.0L208.1 408.2L208.4 406.0L208.7 414.0L209.4 416.0L210.1 423.6L210.8 425.6L211.0 424.0L211.4 422.0L212.1 429.5L212.4 428.0L212.8 433.8L213.5 430.0L214.0 436.0L214.8 440.1L215.4 438.8L216.2 440.8L216.9 428.6L217.4 422.0L218.2 420.4L219.0 425.2L219.6 428.9L220.2 434.4L220.6 432.5L220.9 436.7L221.6 436.4L222.3 439.0L223.0 437.3L223.6 436.8L224.3 435.9L225.0 432.0L225.7 426.1L226.3 425.0L227.0 423.2L227.6 424.0L228.4 426.6L229.1 435.1L229.4 434.5L229.7 436.3L230.4 441.9L231.1 442.5L231.4 431.0L231.8 433.0L232.4 428.1L233.1 425.7L234.0 420.0L234.5 419.2L235.2 428.5L236.0 434.0L236.5 426.1L237.2 420.6L238.0 418.0L238.5 426.5L239.4 423.6L239.9 428.1L240.6 424.2L241.2 414.8L242.0 410.0L242.6 410.6L243.4 419.8L243.9 425.6L244.6 437.5L245.0 425.7L245.3 429.3L246.0 422.3L246.6 422.0L247.3 423.8L248.0 430.0L248.7 431.9L249.4 424.0L250.0 412.7L250.7 425.5L251.4 402.0L252.1 395.7L252.8 402.2L253.0 400.8L253.4 405.2L254.1 403.1L254.8 396.0L255.4 398.0L256.1 406.2L257.0 406.0L257.5 404.6L258.0 412.2L258.8 420.0L259.4 417.6L260.2 414.7L260.9 419.4L261.6 423.7L262.0 423.5L262.2 431.4L262.9 428.9L263.4 425.6L264.3 429.6L265.0 424.0L265.6 421.2L266.2 419.0L267.0 416.5L267.4 414.0L267.6 419.6L268.3 416.4L268.6 421.2L269.0 423.6L269.7 429.5L270.4 432.7L271.0 434.6L271.7 437.8L272.4 441.1L273.1 439.1L273.7 440.2L274.0 437.3L274.4 433.9L275.1 437.5L275.8 440.1L276.0 441.0L276.4 442.7L277.1 443.6L278.0 444.7L278.5 441.6L279.1 443.1L280.0 442.0L280.5 444.4L281.2 450.4L282.0 452.0L282.5 449.6L283.2 446.3L283.6 440.0L283.9 439.8L284.6 454.4L285.2 449.7L286.0 454.0L286.6 449.7L287.3 446.5L287.9 440.9L288.6 436.1L289.0 434.0L289.3 431.3L290.0 435.1L290.6 430.8L291.3 433.0L292.0 445.4L292.4 434.2L292.7 433.1L293.4 437.8L294.0 441.0L294.7 452.0L295.4 445.1L296.0 444.9L296.8 442.8L297.4 433.8L298.0 431.6L298.8 426.9L299.4 426.0L300.1 425.7L300.8 426.2L301.5 430.6L302.0 426.0L302.9 430.0L303.5 437.0L304.0 442.0L304.9 447.0L305.6 449.2L306.0 454.0L306.2 451.7L306.9 458.7L307.6 455.8L308.3 446.8L309.0 444.0L309.6 443.7L310.3 442.9L311.0 436.9L311.6 442.7L312.3 431.1L313.0 432.0L313.7 436.7L314.4 443.2L315.0 450.0L315.7 447.1L316.4 445.7L317.1 448.8L317.7 443.9L318.0 446.0L318.4 444.7L319.1 441.0L319.8 434.5L320.6 434.0L321.1 434.8L321.8 430.5L322.4 428.0L323.2 431.0L324.0 431.7L324.5 434.2L325.0 434.0L325.9 447.0L326.5 445.0L327.2 450.6L328.0 456.0L328.6 457.2L329.2 449.6L329.9 447.6L330.6 446.4L331.0 442.0L331.3 450.1L332.0 449.2L332.6 454.8L333.0 460.0L333.3 462.6L334.0 454.9L334.7 452.1L335.3 444.0L335.6 444.0L336.0 446.7L336.7 449.7L337.4 450.3L338.0 452.0L338.7 448.5L339.4 449.5L340.1 448.4L340.8 442.2L341.0 444.0L341.4 442.3L342.1 439.4L342.8 441.4L343.5 439.7L344.1 436.9L345.0 432.0L345.5 437.1L346.2 433.6L347.0 440.0L347.5 437.1L348.2 440.8L348.9 434.4L349.4 436.0L350.2 447.9L350.9 449.8L351.4 454.0L352.3 451.8L353.0 440.0L353.6 453.7L354.3 452.2L355.0 458.0L355.6 462.1L356.0 464.0L356.3 462.6L357.0 463.8L357.7 452.7L358.0 448.0L358.4 451.6L359.0 447.0L359.7 445.7L360.0 444.0L360.4 447.0L361.1 443.2L361.7 441.3L362.6 440.4L363.1 441.4L363.8 446.0L364.4 447.2L365.0 448.0L365.8 449.3L366.5 452.2L367.0 454.0L367.8 451.3L368.5 446.7L369.4 446.0L369.9 443.0L370.6 452.1L371.0 442.0L371.2 441.6L372.0 440.0L372.6 439.5L373.0 438.0L373.2 439.7L374.0 445.0L374.6 446.8L375.0 452.0L375.3 453.2L376.0 452.1L376.6 453.7L377.3 455.2L378.0 456.8L378.7 463.9L379.4 461.7L380.0 460.0L380.7 457.6L381.4 454.1L382.1 449.0L382.7 446.4L383.0 442.0L383.4 446.1L384.1 452.1L384.8 450.8L385.0 450.0L385.4 453.2L386.1 448.9L387.0 446.0L387.5 452.2L388.1 458.8L389.0 468.0L389.5 464.1L390.2 459.0L391.0 446.0L391.5 448.2L392.4 458.0L392.9 448.9L393.6 429.9L394.0 424.0L394.2 422.7L394.9 413.7L395.4 406.0L396.3 411.6L396.6 412.0L396.9 419.2L397.6 432.4L398.0 440.0L398.3 447.2L399.0 442.0L399.7 450.5L400.3 446.7L401.0 448.0L401.7 451.2L402.4 455.5L403.0 458.1L403.7 459.6L404.0 460.0L404.4 459.4L405.1 458.7L405.8 452.6L406.4 450.0L407.1 460.5L407.8 458.9L408.4 464.0L409.1 458.9L410.0 452.0L410.5 451.5L411.2 457.3L412.0 458.7L412.5 459.9L413.0 462.0L413.9 462.1L414.6 451.9L415.2 457.5L415.6 448.0L415.9 452.0L416.6 445.5L417.0 446.8L417.3 452.6L417.9 445.9L418.6 442.3L419.0 440.0L419.3 441.8L420.0 439.0L420.6 441.6L421.3 447.1L422.0 447.1L422.4 452.0L422.7 450.1L423.4 447.3L424.0 445.8L424.7 445.9L425.4 445.0L425.6 443.2L426.1 444.9L426.7 449.6L427.0 446.0L427.4 444.4L428.1 446.4L428.8 453.1L429.0 447.3L429.4 450.0L430.1 448.0L430.4 451.2L430.8 454.4L431.5 465.6L432.0 464.0L432.8 455.5L433.5 450.4L434.0 446.0L434.9 453.3L435.5 450.3L436.0 448.7L436.9 457.3L437.6 453.0L438.0 448.7L438.2 449.6L438.9 446.2L439.6 449.4L440.0 446.0L440.3 445.1L440.9 444.7L441.6 448.1L442.3 452.3L443.0 450.0L443.7 447.7L444.3 451.7L445.0 446.0L445.7 447.3L446.4 452.2L447.0 452.0L447.7 459.3L448.0 452.0L448.4 458.9L449.1 453.7L449.8 460.8L450.4 466.0L451.1 458.8L452.0 446.0L452.5 443.9L453.1 442.0L453.6 442.0L454.4 440.0L455.2 438.7L455.9 438.0L456.5 446.7L457.0 436.0L457.9 443.2L458.6 447.6L459.0 446.0L459.2 446.3L460.0 458.0L460.6 455.4L461.3 448.1L462.0 442.0L462.6 441.1L463.3 446.2L464.0 448.0L464.6 447.5L465.3 451.4L466.0 443.1L466.4 440.0L466.7 440.5L467.4 445.7L468.0 446.0L468.7 455.4L469.4 468.0L470.1 466.1L470.7 461.8L471.0 460.6L471.4 463.0L472.1 458.8L472.4 459.2L472.8 463.0L473.4 466.7L474.0 472.0L474.8 468.3L475.5 464.6L476.2 459.1L477.0 454.0L477.5 459.8L478.4 468.0L478.9 466.9L479.5 465.0L480.2 461.3L481.0 460.0L481.6 463.6L482.2 465.4L483.0 470.0L483.6 462.3L484.3 459.0L485.0 455.4L485.4 444.0L485.6 446.7L486.3 445.4L487.0 445.2L487.7 443.0L488.3 445.0L489.0 444.7L489.7 447.9L490.4 450.3L491.0 442.0L491.7 451.3L492.4 456.0L493.1 451.9L493.8 444.8L494.0 444.0L494.4 445.5L495.2 444.0L495.8 445.4L496.4 450.2L497.1 456.5L497.4 458.0L497.8 462.1L498.4 461.1L499.2 467.6L500.0 466.0L500.5 466.7L501.2 468.9L501.6 471.0L501.9 469.3L502.6 468.7L503.4 460.0L503.9 461.0L504.6 464.1L505.0 465.3L505.3 465.6L505.9 468.2L506.4 470.0L506.6 472.5L507.3 468.3L508.0 464.0L508.6 466.8L509.0 462.0L509.3 463.1L510.0 466.6L510.7 467.5L511.0 468.0L511.4 467.7L512.0 468.7L512.4 468.8L512.7 469.5L513.4 469.1L514.1 470.2L514.4 470.0L514.8 471.2L515.4 474.0L516.0 476.0L516.8 471.9L517.5 468.0L518.0 464.0L518.8 467.0L519.5 471.6L520.0 469.3L520.8 470.7L521.4 473.0L522.4 472.6L522.9 473.7L523.5 472.8L524.0 472.0L524.2 473.3L524.9 477.2L525.6 480.0L526.2 477.6L526.9 474.6L527.6 472.0L528.3 475.5L529.0 476.2L529.6 478.0L530.3 475.9L531.0 474.2L531.7 474.3L532.4 470.0L533.0 472.6L533.7 474.0L534.4 477.0L535.1 470.8L535.7 464.2L536.0 462.0L536.4 457.8L537.1 455.6L537.8 453.2L538.0 448.0L538.4 448.9L539.1 447.4L539.4 446.6L539.8 449.8L540.5 447.7L541.0 447.3L541.8 453.7L542.5 454.3L543.0 450.0L543.9 449.0L544.5 452.7L545.0 450.0L545.9 449.6L546.6 453.7L547.0 450.0L547.2 453.0L547.9 451.8L548.6 457.9L549.0 458.0L549.3 462.3L550.0 453.1L550.6 457.1L551.3 458.3L551.6 450.0L552.0 453.2L552.7 454.3L553.3 456.5L554.0 460.0L554.7 456.5L555.4 454.1L556.0 450.9L556.6 450.0L557.4 457.4L558.1 467.4L558.4 467.0L558.8 464.8L559.4 454.7L560.0 446.0L560.8 442.9L561.4 442.0L562.1 449.6L563.0 450.0L563.5 448.3L564.2 446.6L565.0 446.0L565.5 451.4L566.2 449.5L567.0 452.0L567.5 455.6L568.4 460.0L568.9 458.9L569.6 463.3L570.3 457.9L571.0 456.0L571.6 461.3L572.4 470.0L573.0 464.0L573.6 459.2L574.0 456.0L574.3 454.9L575.0 450.3L575.7 447.3L576.0 442.0L576.4 439.7L577.0 440.2L577.4 437.8L577.7 440.2L578.4 436.4L578.6 436.6L579.1 435.9L579.7 441.0L580.0 438.0L580.4 440.3L581.0 439.7L581.8 438.3L582.4 442.0L583.1 444.0L584.0 440.0L584.5 443.4L585.1 445.9L586.0 452.0L586.5 457.0L587.0 464.0L587.9 459.4L588.5 460.3L589.2 449.9L589.6 450.0L589.9 450.7L590.6 447.6L591.0 448.8L591.2 456.0L592.0 448.0L592.6 449.1L593.3 454.0L594.0 456.0L594.6 461.5L595.3 468.2L595.6 470.0L596.0 467.5L596.7 461.8L597.3 456.6L597.6 454.0L598.0 450.3L598.7 451.4L599.4 456.1L599.6 446.0L600.0 450.7L600.7 452.0L601.0 456.0L601.4 458.5L602.1 457.5L602.8 449.6L603.0 446.0L603.4 450.6L604.1 455.0L605.0 465.0L605.5 463.6L606.1 450.5L606.4 450.0L606.8 446.4L607.6 446.0L608.2 450.8L609.0 454.0L609.5 460.6L610.0 468.0L610.9 467.7L611.6 466.9L612.0 461.3L612.2 461.0L612.9 464.2L613.6 459.0L614.0 457.5L614.3 463.6L614.9 457.9L615.6 456.7L616.3 454.5L617.0 456.0L617.6 456.9L618.3 464.7L619.0 464.0L619.7 462.5L620.4 464.0L621.0 462.6L621.6 462.0L622.4 466.3L623.1 470.2L623.7 473.0L624.0 475.0L624.4 473.9L625.1 469.5L625.8 464.4L626.4 462.0L627.1 465.5L627.8 467.7L628.4 471.0L629.2 469.9L629.8 470.5L630.5 469.8L631.0 464.0L631.9 467.6L632.5 468.9L633.0 471.0L633.2 467.8L633.9 462.0L634.6 454.0L635.2 452.0L636.0 454.0L636.6 455.0L637.3 453.1L637.6 454.0L638.0 457.5L638.6 462.9L639.0 465.0L639.3 469.3L640.0 462.8L640.7 461.2L641.0 462.0L641.4 462.6L642.0 463.9L642.7 468.2L643.0 468.0L643.4 464.6L644.0 456.5L644.7 455.1L645.0 446.0L645.4 445.2L646.1 450.9L646.4 451.6L646.8 454.2L647.4 455.6L648.1 457.4L649.0 460.0L649.5 462.5L650.1 452.9L651.0 450.0L651.5 451.4L652.2 455.7L652.4 458.0L652.9 457.9L653.5 459.5L654.2 460.0L655.0 460.0L655.6 463.4L656.2 470.2L656.6 472.0L656.9 473.3L657.6 468.6L658.0 466.0L658.3 465.0L659.0 461.6L659.6 456.0L660.3 460.5L661.0 465.7L661.4 468.0L661.6 466.5L662.3 465.6L663.0 465.5L663.7 465.4L664.4 465.4L665.0 464.7L665.7 465.2L666.4 465.0L667.0 466.0L667.8 468.5L668.4 470.9L669.0 471.0L669.8 472.7L670.6 475.0L671.1 472.4L671.8 468.0L672.6 464.0L673.2 464.8L673.8 468.1L674.6 469.9L675.2 474.4L676.0 474.0L676.5 470.2L677.0 466.0L677.2 467.8L677.9 471.0L678.6 474.4L679.4 478.0L679.9 476.1L680.6 472.2L681.4 468.0L682.0 466.4L682.6 463.0L683.0 460.0L683.3 463.2L684.0 466.8L684.6 472.0L685.4 468.8L686.0 468.6L686.6 466.0L687.4 469.0L688.0 472.5L688.7 475.5L689.4 479.0L690.1 474.0L690.8 463.9L691.0 460.0L691.4 467.7L692.1 463.6L692.6 466.9L693.5 469.9L694.0 473.0L694.8 471.1L695.5 471.4L696.0 470.0L696.9 472.6L697.5 475.3L698.0 477.0L698.9 471.4L699.6 466.5L700.0 464.0L700.2 465.4L700.9 467.5L701.6 469.1L702.0 469.3L702.3 470.6L703.0 472.0L703.6 469.4L704.3 466.7L704.6 466.0L705.0 468.6L705.7 470.7L706.3 472.4L706.6 473.1L707.0 474.4L707.7 477.2L708.0 478.0L708.4 476.7L709.0 474.2L709.4 472.4L709.7 470.6L710.4 468.4L711.0 466.0L711.8 472.7L712.0 474.0L712.4 471.5L713.1 466.9L713.6 464.0L714.5 467.8L715.0 468.4L716.0 471.6L716.5 473.4L717.2 475.5L717.4 476.0L717.9 475.1L718.6 472.3L719.2 470.8L720.0 468.0L720.5 471.3L721.2 475.0L721.6 477.0L721.9 475.0L722.6 469.8L723.2 462.0L723.9 463.0L724.6 461.0L725.3 461.5L726.0 460.0L726.6 460.0L727.0 453.3L727.3 458.3L728.0 444.9L728.4 444.0L728.7 445.9L729.4 446.8L730.0 452.0L730.7 460.3L731.6 468.0L732.1 465.0L732.7 462.9L733.0 459.4L733.4 455.2L734.2 452.0L734.8 459.2L735.5 459.4L736.0 462.0L737.0 455.8L737.5 453.9L738.2 448.6L738.6 446.0L738.8 443.4L739.4 445.2L740.2 444.5L740.6 444.0L740.9 442.0L741.4 443.3L742.2 444.5L743.0 442.0L743.6 443.1L744.2 449.2L744.9 458.9L745.6 460.8L746.0 460.0L746.3 455.1L747.0 449.6L747.4 444.0L747.6 443.3L748.3 449.5L749.0 454.7L749.7 460.3L750.4 464.0L751.0 464.1L751.6 454.0L752.4 452.5L753.0 452.6L753.4 454.0L753.7 455.4L754.6 454.0L755.1 453.1L755.8 442.3L756.0 440.0L756.6 434.0L757.1 439.5L757.8 442.4L758.2 443.1L758.5 443.4L759.1 446.5L759.4 450.0L759.8 456.5L760.5 438.6L760.8 436.0L761.2 434.9L762.0 438.2L762.5 436.9L763.0 440.0L763.9 446.1L764.6 452.0L765.2 448.1L766.0 445.0L766.6 442.5L767.0 440.0L767.3 439.7L767.9 446.5L768.6 441.2L769.3 442.1L769.6 442.0L770.0 443.2L770.6 442.8L771.0 439.0L771.3 446.2L772.0 436.9L772.4 436.0L772.7 440.6L773.4 452.4L774.0 452.0L774.7 453.5L775.0 442.0L775.4 446.8L776.2 430.0L776.8 437.9L777.4 441.0L778.1 447.8L778.6 452.0L779.5 438.4L780.0 425.2L781.0 406.0L781.5 411.4L782.2 438.5L782.4 426.0L782.8 434.9L783.4 450.0L784.2 449.0L785.0 447.9L785.5 447.1L786.4 446.0L786.9 449.8L787.6 459.2L788.0 462.0L788.2 461.7L789.0 446.0L789.6 450.3L790.3 450.5L790.6 453.5L791.0 458.6L791.6 456.5L792.0 460.0L792.3 459.0L793.0 454.9L793.4 455.3L793.7 452.7L794.4 453.7L795.0 450.0L795.7 453.5L796.4 461.8L797.0 465.0L797.7 464.7L798.6 456.0L799.1 451.8L799.8 451.3L800.6 446.0L801.1 451.9L801.6 454.0L802.6 446.5L803.1 444.2L804.0 436.0L804.5 441.7L805.0 439.8L805.9 445.9L806.6 446.0L807.2 442.1L807.9 429.8L808.6 426.0L809.2 442.7L810.0 440.0L810.6 444.4L811.0 450.0L811.3 446.3L812.0 428.0L812.6 412.7L813.3 408.5L813.6 407.8L814.0 404.8L814.7 410.4L815.3 423.1L815.6 406.0L816.0 397.2L816.7 400.6L817.4 383.7L817.6 388.9L818.0 408.8L818.7 386.5L819.4 384.0L820.1 414.2L820.6 418.0L821.6 395.1L822.1 387.8L822.8 380.5L823.0 384.0L823.5 383.9L824.1 386.8L824.4 381.7L824.8 377.7L825.5 394.8L825.8 380.6L826.2 375.4L826.8 399.0L827.2 383.8L827.5 383.7L828.2 383.2L828.5 394.4L828.9 398.7L829.4 407.5L830.4 422.0L830.9 423.7L831.6 429.1L832.0 412.0L832.3 418.4L833.0 422.8L833.6 442.8L834.4 438.0L835.0 428.7L835.4 427.0L835.6 427.6L836.4 416.0L837.0 420.6L837.4 426.0L837.7 432.7L838.4 439.0L839.0 442.0L839.7 434.4L840.4 431.3L840.6 418.0L841.1 417.2L841.7 408.8L842.0 407.0L842.4 405.5L843.1 402.2L843.8 397.5L844.5 400.3L845.0 402.0L845.8 400.3L846.6 408.9L847.1 415.0L847.8 414.0L848.5 432.3L849.0 438.0L849.9 444.7L850.5 433.6L851.4 430.0L851.9 438.4L852.6 440.9L853.0 446.0L853.2 445.0L853.9 441.3L854.6 436.2L855.3 432.4L855.6 430.0L856.0 429.7L856.6 445.6L857.0 442.0L857.3 442.4L858.0 435.3L858.7 438.6L859.0 434.0L859.3 435.9L860.0 442.2L860.7 445.8L861.0 446.2L861.4 450.8L862.0 451.4L862.6 456.0L863.4 449.5L864.0 445.0L864.8 441.5L865.4 434.0L866.1 439.5L867.0 448.0L867.5 450.8L868.1 431.4L868.4 430.5L868.8 428.1L869.4 418.0L870.2 416.2L870.6 412.0L870.9 422.8L871.5 432.9L872.0 448.0L872.9 440.5L873.6 440.5L874.0 434.0L874.2 440.0L874.9 447.3L875.6 444.7L876.3 447.8L877.0 454.0L877.6 453.2L878.3 456.5L878.6 448.7L879.0 452.4L879.6 447.8L880.0 444.0L880.3 447.1L881.0 450.5L881.7 456.1L882.0 457.0L882.4 450.2L883.0 440.9L883.6 434.0L884.4 443.7L885.0 446.5L885.7 455.7L886.4 459.0L887.1 449.3L887.8 447.7L888.0 434.0L888.5 435.4L889.1 446.9L889.4 448.0L889.8 450.2L890.5 460.6L891.0 464.0L892.0 436.0L892.5 441.6L893.4 445.8L893.9 447.8L894.5 458.9L895.2 462.1L896.0 464.0L896.6 458.5L897.4 448.0L897.9 439.9L898.6 429.9L899.0 426.0L899.3 437.9L900.0 432.7L900.6 442.0L901.4 432.0L902.0 434.2L902.7 437.4L903.0 441.8L903.3 444.2L904.0 446.8L904.7 454.5L905.0 454.0L905.4 449.8L906.0 441.4L906.6 432.0L907.4 445.7L908.0 434.0L908.8 437.6L909.4 436.0L910.1 437.5L911.0 433.0L911.5 433.3L912.1 433.7L912.6 430.0L912.8 435.8L913.5 442.0L914.2 444.7L914.4 448.0L914.9 444.5L915.6 440.8L916.2 435.5L916.9 436.4L917.4 430.0L918.2 424.0L918.6 419.7L918.9 413.8L919.4 412.9L920.2 406.0L921.0 409.4L921.6 412.0L922.3 425.8L923.0 443.2L923.4 456.0L923.6 459.0L924.3 443.9L925.0 432.0L925.7 441.2L926.4 442.0L926.6 446.1L927.0 448.5L927.7 455.5L928.4 462.0L929.1 453.0L929.8 446.3L930.0 442.0L930.4 442.9L931.1 442.4L931.8 441.3L932.0 434.0L932.5 441.4L933.0 446.0L933.8 439.4L934.6 432.0L935.2 436.9L936.0 440.0L936.5 445.3L937.2 455.4L938.0 465.0L938.5 459.4L939.2 447.3L939.6 442.0L939.9 438.1L940.6 435.7L941.4 432.0L941.9 441.2L942.6 452.0L943.0 458.0L943.3 454.3L944.0 450.1L944.6 442.0L945.0 440.0L945.3 442.8L946.0 450.9L946.7 454.4L947.0 459.0L947.4 457.1L948.0 446.6L948.7 443.4L949.4 434.0L950.1 440.6L950.7 441.7L951.4 448.0L952.1 445.8L952.8 437.9L953.0 436.0L953.4 435.0L954.1 434.3L954.6 432.0L955.5 441.7L956.1 454.9L956.4 452.0L956.8 443.7L957.5 437.2L958.2 421.5L958.4 422.0L958.9 428.4L959.5 435.5L960.0 438.0L960.9 455.4L961.4 461.0L962.4 434.0L962.9 439.8L963.6 449.3L964.0 443.0L964.3 444.6L965.0 446.9L965.6 452.0L966.3 452.2L967.0 432.8L967.4 426.0L967.7 435.6L968.3 432.6L969.0 442.0L969.7 445.5L970.4 459.5L970.6 455.0L971.0 449.9L971.7 439.8L972.0 434.0L972.4 430.0L973.1 435.3L973.8 442.8L974.4 428.0L975.1 444.4L975.6 453.0L976.5 436.2L977.0 426.0L977.8 443.9L978.6 440.9L979.2 447.1L980.0 454.0L980.5 442.1L981.4 416.0L981.9 416.0L982.3 365.3L982.5 369.7L983.2 402.6L983.6 407.6L983.9 394.9L984.6 358.0L985.3 366.7L985.9 388.8L986.2 301.5L986.6 316.1L987.3 334.4L988.0 375.5L988.8 406.3L989.3 402.1L990.0 385.4L990.5 381.1L991.4 382.4L992.0 375.6L992.8 361.1L993.4 363.1L994.1 357.1L994.7 408.4L995.1 360.1L995.4 409.4L996.1 387.6L996.8 386.6L997.0 399.0L997.5 384.5L998.1 379.4L998.8 335.0L999.3 338.3L1000.2 403.7L1000.8 310.7L1001.3 318.4L1001.5 311.6L1002.2 314.6L1002.9 323.4L1003.2 324.3L1003.5 333.5L1004.2 383.2L1004.6 334.4L1004.9 397.2L1005.6 374.5L1006.2 394.1L1006.5 402.6L1006.9 407.4L1007.6 395.4L1008.3 381.7L1009.1 379.5L1009.6 419.7L1010.3 344.1L1011.1 327.5L1011.7 354.8L1012.3 363.9L1013.1 392.2L1013.7 390.4L1014.4 391.4L1015.0 404.6L1015.7 406.8L1016.4 403.7L1017.1 409.9L1017.8 413.4L1018.3 406.6L1019.1 436.7L1019.8 428.5L1020.6 443.3L1021.1 430.1L1021.8 418.8L1022.5 406.1L1023.2 414.9L1023.9 383.8L1024.5 403.0L1025.2 434.2L1025.5 442.5L1025.9 431.5L1026.6 404.8L1027.2 384.0L1027.8 369.6L1028.6 388.4L1029.5 397.2L1029.9 379.9L1030.6 349.7L1031.3 331.7L1032.1 300.7L1032.7 389.5L1033.3 400.6L1034.0 369.2L1034.7 373.2L1035.4 392.1L1036.0 399.4L1036.7 376.1L1037.4 385.1L1037.7 373.2L1038.1 379.2L1038.7 404.3L1039.3 410.9L1040.1 363.6L1040.8 344.0L1041.5 326.3L1041.9 292.0L1042.1 370.1L1042.8 346.7L1043.5 387.1L1043.9 417.7L1044.2 419.0L1044.8 420.9L1045.5 422.2L1045.8 426.8L1046.2 424.7L1046.9 419.9L1047.5 447.7L1047.8 404.2L1048.2 418.3L1048.9 423.9L1049.6 439.5L1050.1 447.4L1050.9 443.7L1051.6 427.0L1052.3 427.1L1052.7 422.4L1053.0 424.8L1053.6 416.5L1054.3 409.3L1055.0 404.9L1055.7 390.7L1056.3 419.0L1057.0 360.9L1057.7 371.3L1058.4 377.8L1059.0 378.0L1059.7 361.7L1060.3 358.7L1061.1 420.1L1061.8 424.6L1062.2 394.8L1063.1 397.4L1063.9 396.0L1064.5 400.3L1065.2 383.5L1065.8 388.0L1066.5 433.1L1067.2 416.1L1067.9 427.7L1068.1 433.3L1068.5 440.7L1069.2 441.6L1069.8 452.1L1070.6 433.5L1071.2 444.4L1071.7 407.3L1072.6 423.6L1073.3 438.4L1074.0 449.8L1074.6 438.2L1075.3 414.1L1076.0 451.0L1076.7 403.5L1077.3 415.7L1078.0 410.6L1078.7 421.6L1079.4 426.5L1079.6 428.5L1080.0 420.4L1080.7 406.1L1081.2 380.7L1082.1 395.5L1082.9 401.0L1083.4 374.0L1084.2 330.1L1084.8 375.6L1085.5 395.0L1086.2 350.7L1086.8 376.8L1087.5 386.5L1087.8 402.1L1088.2 398.7L1088.8 413.2L1089.5 400.6L1090.4 405.0L1090.9 412.9L1091.5 435.7L1092.4 448.3L1092.9 427.9L1093.6 412.5L1094.3 379.7L1094.9 428.1L1095.6 393.1L1096.3 408.6L1097.0 413.2L1097.6 411.8L1098.3 409.5L1098.6 406.2L1099.0 436.8L1099.7 421.6L1100.3 432.9L1101.0 434.0L1101.5 444.3L1102.4 422.8L1103.1 388.0L1103.5 380.3L1103.7 404.3L1104.4 417.7L1105.2 350.0L1105.8 351.9L1106.4 367.7L1106.8 378.4L1107.1 365.3L1107.8 367.1L1108.1 355.2L1108.5 411.4L1109.2 411.1L1109.8 369.3L1110.1 376.5L1110.5 378.1L1111.2 364.4L1112.0 370.1L1112.5 367.2L1113.2 389.9L1113.7 343.0L1113.9 424.5L1114.6 352.3L1115.3 366.7L1115.9 374.1L1116.6 392.8L1117.3 396.7L1118.0 391.8L1118.6 431.8L1119.3 373.2L1119.6 376.9L1120.0 394.9L1120.7 390.1L1121.5 412.3L1122.0 402.1L1122.7 415.7L1123.4 431.1L1123.8 369.6L1124.0 377.9L1124.7 404.2L1125.5 429.6L1126.1 419.3L1126.8 389.4L1127.1 380.9L1127.4 420.1L1128.1 423.4L1128.8 370.8L1129.1 372.3L1129.5 386.3L1130.1 413.7L1130.4 429.7L1130.8 418.8L1131.7 385.5L1132.2 400.0L1132.8 424.3L1133.7 404.9L1134.2 404.9L1134.9 376.9L1135.6 365.6L1136.2 385.3L1136.9 423.7L1137.3 408.0L1137.6 415.3L1138.3 425.8L1138.9 437.7L1139.5 448.4L1140.3 437.2L1141.0 417.5L1141.8 401.9L1142.3 444.8L1143.0 417.2L1143.7 435.7L1144.1 440.3L1145.0 415.6L1145.7 393.1L1146.1 382.7L1146.4 381.5L1147.1 402.5L1147.8 347.5L1148.4 344.3L1149.1 341.5L1149.4 346.1L1149.8 346.4L1150.5 341.2L1151.3 329.4L1151.8 400.2L1152.5 330.0L1153.3 335.7L1153.8 343.9L1154.5 325.7L1155.3 327.5L1155.9 368.3L1156.5 421.1L1157.2 346.1L1157.9 356.6L1158.6 354.6L1159.2 338.7L1159.9 345.4L1160.6 382.7L1161.3 423.7L1161.6 355.6L1162.0 357.9L1162.6 383.9L1163.3 404.6L1164.0 392.8L1164.7 381.9L1165.3 406.5L1165.6 371.9L1166.0 362.6L1166.7 362.0L1167.2 349.6L1168.0 339.0L1168.7 322.7L1169.2 322.8L1169.4 330.1L1170.1 359.1L1170.5 309.7L1170.8 417.2L1171.4 340.3L1172.1 371.8L1172.8 359.8L1173.5 355.6L1173.8 349.0L1174.1 339.5L1174.8 373.7L1175.5 411.7L1175.7 334.2L1176.2 336.4L1177.0 343.8L1177.5 356.1L1178.0 365.3L1178.9 359.3L1179.6 390.7L1180.3 345.7L1180.9 360.4L1181.6 357.2L1182.3 365.4L1183.0 371.2L1183.6 357.9L1184.3 415.4L1184.6 362.1L1185.0 423.5L1185.7 411.1L1186.2 435.7L1187.0 404.5L1187.8 368.7L1188.4 361.5L1189.0 396.8L1189.5 369.9L1189.7 432.8L1190.4 372.1L1191.1 377.8L1191.8 369.2L1192.1 371.9L1192.4 379.2L1193.1 385.5L1193.8 392.9L1194.1 388.2L1194.5 389.6L1195.1 367.6L1195.8 366.4L1196.0 355.6L1196.5 346.0L1197.2 362.1L1197.8 346.1L1198.7 352.3L1199.2 418.7L1199.9 401.6L1200.3 422.6L1200.5 418.4L1201.2 394.1L1201.9 383.1L1202.6 358.8L1203.3 391.3L1203.9 361.7L1204.6 368.6L1205.3 354.6L1206.0 358.3L1206.5 342.4L1207.3 334.9L1208.0 372.8L1208.7 334.3L1209.3 337.8L1209.8 331.3L1210.0 320.2L1210.7 324.5L1211.3 335.6L1212.1 354.7L1212.4 348.9L1212.7 358.8L1213.4 384.9L1214.1 416.0L1214.8 398.2L1215.4 372.1L1216.1 362.3L1216.4 349.0L1216.8 346.4L1217.5 406.2L1218.3 368.6L1218.8 368.4L1219.5 361.4L1220.0 360.4L1220.2 360.5L1220.9 352.6L1221.6 352.3L1222.2 368.2L1222.9 398.1L1223.6 419.3L1224.2 388.6L1224.9 362.7L1225.5 351.6L1226.3 352.1L1226.8 362.1L1227.6 359.7L1228.3 365.8L1228.8 368.6L1229.7 372.2L1230.3 352.3L1231.0 353.8L1231.4 355.5L1231.7 413.7L1232.4 423.3L1233.0 364.4L1233.4 368.6L1233.7 358.1L1234.4 355.9L1235.1 355.6L1235.4 355.5L1235.8 358.4L1236.4 406.8L1237.0 352.3L1237.8 363.9L1238.6 372.0L1239.1 377.5L1239.8 383.1L1240.5 394.5L1240.9 404.7L1241.2 409.3L1241.8 418.1L1242.6 419.4L1243.2 403.3L1243.9 382.7L1244.2 375.2L1244.5 372.2L1245.2 375.4L1245.8 385.1L1246.6 432.0L1247.3 420.4L1247.5 429.2L1247.9 414.3L1248.6 400.2L1249.1 388.3L1250.0 384.8L1250.7 425.4L1251.1 391.6L1251.3 441.5L1252.0 412.1L1252.7 435.7L1253.3 421.8L1254.0 397.3L1254.4 388.4L1254.7 387.1L1255.4 436.8L1256.1 437.1L1256.3 404.7L1256.7 401.1L1257.4 411.3L1258.3 411.3L1258.8 416.3L1259.5 428.1L1260.1 439.5L1260.9 448.8L1261.5 431.9L1262.2 412.7L1262.6 404.7L1262.8 404.8L1263.5 408.2L1264.2 398.6L1264.8 401.4L1265.5 427.3L1266.2 388.9L1266.8 385.0L1267.6 382.0L1268.2 389.5L1268.8 391.6L1269.6 419.4L1270.4 448.9L1271.0 433.7L1271.6 413.1L1272.4 385.1L1273.0 402.7L1273.7 418.1L1274.3 437.4L1274.7 445.6L1275.0 437.0L1275.7 423.7L1276.4 408.8L1277.0 388.4L1277.7 406.3L1278.4 423.3L1279.1 433.4L1279.6 445.6L1280.4 429.3L1281.2 408.0L1281.8 403.3L1282.5 393.4L1283.2 385.0L1283.8 411.8L1284.5 368.7L1285.2 370.7L1285.8 384.9L1286.2 388.2L1286.5 381.1L1287.2 375.4L1287.8 362.2L1288.6 399.0L1289.1 388.4L1289.9 405.7L1290.4 421.0L1291.3 409.8L1291.7 411.3L1291.9 416.4L1292.6 426.0L1293.3 432.1L1293.7 434.1L1294.0 435.7L1294.7 434.6L1295.3 433.1L1296.0 427.6L1296.7 424.5L1297.4 428.0L1297.6 427.6L1298.0 430.7L1298.7 441.6L1299.2 452.1L1300.1 427.7L1300.9 404.7L1301.4 411.3L1302.1 404.8L1302.8 424.3L1303.2 414.5L1303.5 438.4L1304.1 407.5L1304.8 399.9L1305.5 401.4L1306.2 417.8L1306.8 432.4L1307.4 445.5L1308.2 426.3L1309.1 411.3L1309.5 413.6L1310.2 414.7L1310.9 411.4L1311.4 408.1L1312.2 430.1L1312.7 445.5L1312.9 434.7L1313.6 411.0L1314.0 401.4L1314.3 408.5L1315.0 403.9L1315.6 411.3L1316.3 425.5L1317.0 439.4L1317.3 448.8L1317.7 440.5L1318.3 421.2L1318.9 401.5L1319.7 404.4L1320.5 417.8L1321.0 429.0L1321.7 439.6L1322.2 448.9L1322.4 442.8L1323.1 433.3L1323.8 414.6L1324.4 426.2L1325.1 437.4L1325.8 445.3L1326.5 455.4L1327.2 441.4L1327.8 427.7L1328.4 411.3L1329.2 426.5L1329.8 429.9L1330.4 439.1L1331.2 432.2L1331.9 442.4L1332.7 409.6L1333.2 405.3L1333.9 406.7L1334.6 411.2L1335.1 411.2L1335.1 483.0Z" fill="#44cc83"/>
<path d="M109.9 393.6L110.5 380.0L111.2 371.5L112.0 358.0L112.6 355.6L113.4 328.0L114.0 361.0L114.6 366.0L115.3 382.2L116.0 374.5L116.4 357.0L116.7 387.4L117.3 397.6L117.6 400.0L118.0 405.3L118.7 407.2L119.0 408.0L119.4 409.3L120.1 419.0L120.7 421.7L121.0 418.0L121.4 419.4L122.1 423.2L122.6 420.0L123.4 380.0L124.2 340.0L124.8 360.0L125.5 372.0L126.2 376.0L127.0 380.0L127.5 379.8L128.2 367.4L128.6 357.0L128.9 363.9L129.4 372.0L130.2 326.0L130.9 378.0L131.5 360.0L132.2 365.4L133.0 340.0L133.6 346.3L134.4 267.6L134.9 325.8L135.6 350.0L136.4 369.0L137.0 394.4L137.7 375.8L138.0 378.0L138.3 397.9L139.0 396.2L139.4 406.0L139.7 411.9L140.4 411.2L141.0 409.0L141.7 423.6L142.4 424.0L143.1 427.6L143.8 421.7L144.0 422.0L144.4 419.1L145.0 416.0L145.8 412.8L146.5 412.9L147.1 398.3L147.4 400.0L147.8 416.1L148.5 418.3L149.0 426.0L149.8 438.3L150.5 431.2L151.0 426.0L152.0 434.0L152.6 438.9L153.2 434.2L154.0 430.0L154.6 426.3L155.0 416.0L155.3 412.7L155.9 405.4L156.6 382.0L157.3 420.0L158.0 416.0L158.6 421.7L159.4 428.0L160.0 429.1L160.7 430.2L161.0 430.0L161.3 433.7L162.0 434.6L162.7 440.9L163.0 436.0L163.4 436.0L164.1 454.9L164.7 446.8L165.0 452.0L165.4 446.4L166.1 447.7L166.6 440.0L167.4 435.8L168.0 440.0L168.8 443.8L169.4 458.0L170.2 460.4L171.0 446.0L171.5 447.7L172.2 449.7L173.0 452.0L173.5 454.9L174.2 455.6L175.0 451.4L175.6 443.9L176.4 431.0L176.9 443.9L177.4 446.0L178.4 448.7L178.9 427.2L179.8 395.0L180.3 414.3L181.0 432.0L181.7 435.5L182.3 439.2L183.0 436.0L183.7 431.0L184.4 439.6L184.6 442.0L185.1 435.0L185.7 431.0L186.0 420.0L186.4 420.6L187.1 421.3L187.8 413.4L188.0 416.0L188.4 417.1L189.1 419.7L190.0 420.0L190.5 421.8L191.1 420.2L192.0 424.0L192.5 430.6L193.2 414.2L194.0 407.0L194.5 421.3L195.2 421.4L196.0 424.0L196.6 427.4L197.4 426.0L197.9 429.3L198.6 425.6L199.0 416.0L199.3 423.6L199.9 422.8L200.6 430.8L201.0 418.0L201.3 420.0L202.0 426.8L202.6 430.0L203.3 426.5L204.0 411.0L204.7 415.8L205.4 414.7L206.0 409.0L206.7 401.4L207.4 396.0L208.1 359.7L208.4 329.6L208.7 374.9L209.4 396.0L210.1 404.9L210.8 424.2L211.0 422.1L211.4 416.8L212.1 407.8L212.4 402.0L212.8 415.9L213.5 419.3L214.0 428.0L214.8 430.6L215.4 432.0L216.2 424.4L216.9 406.7L217.4 388.0L218.2 389.5L219.0 406.0L219.6 409.7L220.2 421.9L220.6 424.0L220.9 424.1L221.6 430.8L222.3 433.4L223.0 434.2L223.6 425.0L224.3 429.9L225.0 420.0L225.7 412.7L226.3 410.7L227.0 404.8L227.6 399.0L228.4 414.5L229.1 429.5L229.4 432.0L229.7 431.9L230.4 434.7L231.1 424.8L231.4 416.0L231.8 417.3L232.4 407.8L233.1 412.2L234.0 404.0L234.5 401.8L235.2 414.5L236.0 430.0L236.5 415.8L237.2 404.4L238.0 383.0L238.5 409.7L239.4 416.0L239.9 405.7L240.6 401.6L241.2 391.4L242.0 370.0L242.6 389.7L243.4 412.0L243.9 420.4L244.6 435.3L245.0 424.0L245.3 425.0L246.0 415.6L246.6 407.0L247.3 407.6L248.0 426.0L248.7 423.5L249.4 414.0L250.0 399.6L250.7 412.7L251.4 370.0L252.1 378.6L252.8 388.2L253.0 384.0L253.4 390.4L254.1 386.9L254.8 375.3L255.4 365.0L256.1 383.9L257.0 387.0L257.5 393.5L258.0 406.0L258.8 411.4L259.4 406.0L260.2 397.6L260.9 399.3L261.6 397.5L262.0 388.0L262.2 407.7L262.9 413.0L263.4 416.0L264.3 421.7L265.0 408.0L265.6 402.6L266.2 390.0L267.0 369.7L267.4 344.4L267.6 385.4L268.3 385.9L268.6 390.0L269.0 409.0L269.7 420.9L270.4 424.9L271.0 428.0L271.7 429.0L272.4 419.5L273.1 427.8L273.7 423.6L274.0 421.0L274.4 424.7L275.1 431.4L275.8 426.4L276.0 432.0L276.4 434.1L277.1 435.4L278.0 434.0L278.5 432.9L279.1 431.4L280.0 430.0L280.5 436.6L281.2 433.9L282.0 444.0L282.5 442.1L283.2 435.2L283.6 423.0L283.9 427.8L284.6 445.0L285.2 440.3L286.0 446.0L286.6 436.4L287.3 435.7L287.9 425.4L288.6 418.3L289.0 414.0L289.3 412.1L290.0 419.9L290.6 413.0L291.3 419.6L292.0 431.4L292.4 422.0L292.7 426.1L293.4 425.6L294.0 436.0L294.7 446.3L295.4 441.4L296.0 443.4L296.8 431.8L297.4 425.9L298.0 416.0L298.8 398.8L299.4 385.0L300.1 394.0L300.8 400.9L301.5 410.7L302.0 400.0L302.9 410.1L303.5 424.0L304.0 426.0L304.9 436.4L305.6 441.6L306.0 446.0L306.2 445.4L306.9 449.1L307.6 443.5L308.3 436.5L309.0 430.0L309.6 433.6L310.3 431.6L311.0 426.2L311.6 431.0L312.3 416.3L313.0 414.0L313.7 416.6L314.4 433.8L315.0 440.0L315.7 433.2L316.4 428.1L317.1 440.8L317.7 434.5L318.0 434.0L318.4 427.0L319.1 432.6L319.8 425.2L320.6 418.0L321.1 416.8L321.8 398.4L322.4 391.0L323.2 410.2L324.0 420.0L324.5 422.7L325.0 418.0L325.9 435.4L326.5 435.0L327.2 441.8L328.0 446.0L328.6 450.0L329.2 432.0L329.9 437.3L330.6 436.0L331.0 429.0L331.3 443.2L332.0 438.9L332.6 444.0L333.0 446.0L333.3 452.1L334.0 442.4L334.7 433.1L335.3 422.3L335.6 428.0L336.0 434.5L336.7 439.1L337.4 440.2L338.0 442.0L338.7 440.2L339.4 439.6L340.1 433.3L340.8 432.9L341.0 430.0L341.4 431.6L342.1 418.0L342.8 423.9L343.5 426.6L344.1 426.8L345.0 415.0L345.5 422.3L346.2 415.4L347.0 424.0L347.5 417.0L348.2 427.4L348.9 422.5L349.4 418.0L350.2 437.1L350.9 438.7L351.4 442.0L352.3 442.9L353.0 422.0L353.6 442.1L354.3 440.5L355.0 438.6L355.6 450.9L356.0 452.0L356.3 454.9L357.0 456.4L357.7 438.4L358.0 435.0L358.4 442.9L359.0 435.6L359.7 438.2L360.0 432.0L360.4 439.1L361.1 427.3L361.7 429.3L362.6 425.0L363.1 432.3L363.8 435.6L364.4 436.8L365.0 436.0L365.8 439.4L366.5 443.4L367.0 444.0L367.8 438.6L368.5 432.0L369.4 422.0L369.9 424.3L370.6 428.7L371.0 406.0L371.2 414.1L372.0 378.0L372.6 387.2L373.0 351.2L373.2 371.8L374.0 378.0L374.6 420.0L375.0 444.0L375.3 441.9L376.0 446.0L376.6 447.2L377.3 442.2L378.0 444.0L378.7 454.0L379.4 451.9L380.0 446.0L380.7 447.4L381.4 445.9L382.1 430.4L382.7 434.7L383.0 428.0L383.4 435.5L384.1 443.1L384.8 441.1L385.0 436.0L385.4 446.0L386.1 432.1L387.0 435.0L387.5 436.2L388.1 454.2L389.0 466.0L389.5 460.3L390.2 452.9L391.0 429.0L391.5 432.0L392.4 452.0L392.9 431.5L393.6 407.2L394.0 396.0L394.2 401.3L394.9 386.7L395.4 373.0L396.3 395.9L396.6 398.0L396.9 400.6L397.6 425.5L398.0 432.0L398.3 440.7L399.0 429.0L399.7 444.3L400.3 441.0L401.0 442.0L401.7 446.7L402.4 447.3L403.0 454.8L403.7 456.7L404.0 456.0L404.4 455.4L405.1 454.4L405.8 436.1L406.4 439.0L407.1 455.3L407.8 455.7L408.4 462.0L409.1 454.9L410.0 443.0L410.5 444.8L411.2 449.1L412.0 444.0L412.5 453.8L413.0 460.0L413.9 459.6L414.6 447.0L415.2 452.7L415.6 438.0L415.9 447.7L416.6 442.2L417.0 444.8L417.3 449.3L417.9 435.5L418.6 422.4L419.0 413.6L419.3 427.1L420.0 424.6L420.6 426.0L421.3 440.8L422.0 441.1L422.4 446.0L422.7 439.4L423.4 436.2L424.0 436.0L424.7 435.3L425.4 426.4L425.6 420.4L426.1 431.1L426.7 433.1L427.0 438.0L427.4 438.8L428.1 431.3L428.8 447.5L429.0 439.0L429.4 445.8L430.1 444.5L430.4 446.0L430.8 451.5L431.5 462.3L432.0 462.0L432.8 442.0L433.5 439.4L434.0 429.6L434.9 447.2L435.5 445.3L436.0 446.0L436.9 446.3L437.6 445.1L438.0 434.0L438.2 436.7L438.9 431.3L439.6 435.2L440.0 424.4L440.3 426.7L440.9 437.0L441.6 446.0L442.3 448.4L443.0 442.0L443.7 438.7L444.3 443.2L445.0 427.0L445.7 429.8L446.4 444.7L447.0 446.0L447.7 452.0L448.0 435.0L448.4 451.1L449.1 450.1L449.8 458.3L450.4 464.0L451.1 452.2L452.0 425.4L452.5 431.8L453.1 434.3L453.6 434.0L454.4 426.0L455.2 426.8L455.9 417.3L456.5 432.5L457.0 417.6L457.9 427.3L458.6 440.1L459.0 436.0L459.2 440.0L460.0 454.0L460.6 447.7L461.3 436.7L462.0 423.0L462.6 428.9L463.3 436.1L464.0 440.0L464.6 440.6L465.3 440.4L466.0 433.5L466.4 426.4L466.7 429.2L467.4 437.8L468.0 436.0L468.7 443.2L469.4 466.0L470.1 460.1L470.7 455.4L471.0 449.0L471.4 458.1L472.1 453.6L472.4 448.0L472.8 456.7L473.4 462.9L474.0 470.0L474.8 463.6L475.5 455.6L476.2 444.4L477.0 431.6L477.5 442.2L478.4 466.0L478.9 463.1L479.5 462.9L480.2 458.7L481.0 456.0L481.6 461.4L482.2 464.1L483.0 467.3L483.6 455.3L484.3 454.2L485.0 450.0L485.4 430.4L485.6 430.9L486.3 435.8L487.0 436.0L487.7 437.4L488.3 441.4L489.0 442.0L489.7 444.0L490.4 437.6L491.0 429.6L491.7 446.8L492.4 454.0L493.1 445.1L493.8 429.9L494.0 426.0L494.4 412.0L495.2 380.4L495.8 417.6L496.4 426.0L497.1 449.2L497.4 454.0L497.8 449.2L498.4 444.0L499.2 459.1L500.0 462.0L500.5 464.1L501.2 467.5L501.6 467.9L501.9 467.7L502.6 463.8L503.4 449.6L503.9 453.7L504.6 450.9L505.0 460.0L505.3 462.5L505.9 462.5L506.4 468.0L506.6 471.2L507.3 463.5L508.0 455.0L508.6 462.4L509.0 454.0L509.3 457.2L510.0 454.4L510.7 464.9L511.0 466.0L511.4 464.8L512.0 464.5L512.4 461.0L512.7 465.1L513.4 465.3L514.1 467.9L514.4 468.0L514.8 470.0L515.4 472.4L516.0 473.2L516.8 466.4L517.5 460.9L518.0 453.4L518.8 459.7L519.5 464.3L520.0 458.0L520.8 458.5L521.4 471.0L522.4 465.0L522.9 463.1L523.5 470.4L524.0 470.0L524.2 471.8L524.9 475.7L525.6 477.4L526.2 475.8L526.9 468.8L527.6 467.6L528.3 473.0L529.0 474.4L529.6 476.4L530.3 470.6L531.0 465.9L531.7 471.4L532.4 463.0L533.0 468.7L533.7 471.8L534.4 473.9L535.1 467.4L535.7 458.3L536.0 452.0L536.4 447.7L537.1 446.3L537.8 445.4L538.0 435.0L538.4 437.2L539.1 431.6L539.4 425.4L539.8 438.2L540.5 441.4L541.0 442.0L541.8 449.9L542.5 438.3L543.0 439.0L543.9 442.7L544.5 444.9L545.0 442.0L545.9 440.9L546.6 446.2L547.0 437.0L547.2 443.5L547.9 444.0L548.6 453.3L549.0 452.0L549.3 458.2L550.0 448.4L550.6 443.9L551.3 451.1L551.6 439.6L552.0 445.3L552.7 440.8L553.3 452.9L554.0 458.0L554.7 452.5L555.4 447.9L556.0 443.0L556.6 434.4L557.4 444.6L558.1 465.1L558.4 464.8L558.8 462.6L559.4 446.5L560.0 432.0L560.8 421.7L561.4 423.6L562.1 435.5L563.0 442.0L563.5 438.9L564.2 439.9L565.0 436.4L565.5 439.9L566.2 443.9L567.0 446.0L567.5 451.2L568.4 456.0L568.9 450.5L569.6 460.9L570.3 455.4L571.0 452.0L571.6 459.0L572.4 467.3L573.0 460.1L573.6 448.1L574.0 450.0L574.3 440.2L575.0 440.5L575.7 435.9L576.0 424.0L576.4 426.1L577.0 422.7L577.4 412.0L577.7 416.4L578.4 414.5L578.6 400.4L579.1 409.5L579.7 426.3L580.0 418.0L580.4 423.7L581.0 417.6L581.8 428.2L582.4 432.0L583.1 434.3L584.0 425.0L584.5 430.8L585.1 439.9L586.0 446.0L586.5 448.0L587.0 462.0L587.9 455.8L588.5 456.2L589.2 442.6L589.6 440.4L589.9 443.9L590.6 443.7L591.0 446.0L591.2 453.4L592.0 439.6L592.6 442.9L593.3 444.5L594.0 452.0L594.6 459.6L595.3 467.1L595.6 467.8L596.0 465.7L596.7 457.8L597.3 451.5L597.6 446.0L598.0 444.3L598.7 445.1L599.4 450.1L599.6 435.0L600.0 443.1L600.7 437.3L601.0 450.0L601.4 447.0L602.1 446.6L602.8 432.4L603.0 435.6L603.4 435.0L604.1 450.5L605.0 462.4L605.5 460.9L606.1 440.3L606.4 436.0L606.8 430.4L607.6 419.2L608.2 434.6L609.0 446.0L609.5 456.7L610.0 466.0L610.9 464.5L611.6 462.1L612.0 452.0L612.2 447.0L612.9 460.2L613.6 452.6L614.0 447.6L614.3 456.8L614.9 452.4L615.6 452.0L616.3 447.8L617.0 445.0L617.6 450.0L618.3 461.2L619.0 462.0L619.7 459.9L620.4 461.0L621.0 459.0L621.6 455.6L622.4 455.8L623.1 467.6L623.7 472.0L624.0 472.1L624.4 466.6L625.1 466.3L625.8 460.1L626.4 453.6L627.1 461.4L627.8 465.1L628.4 469.3L629.2 468.2L629.8 467.8L630.5 467.2L631.0 458.0L631.9 464.4L632.5 467.5L633.0 469.2L633.2 466.0L633.9 457.9L634.6 443.6L635.2 441.5L636.0 452.3L636.6 449.8L637.3 442.8L637.6 443.0L638.0 452.0L638.6 450.4L639.0 462.7L639.3 466.6L640.0 460.8L640.7 452.6L641.0 457.0L641.4 459.3L642.0 461.8L642.7 458.2L643.0 464.8L643.4 460.9L644.0 444.7L644.7 446.9L645.0 427.6L645.4 429.7L646.1 445.4L646.4 446.0L646.8 450.1L647.4 451.5L648.1 454.4L649.0 456.0L649.5 457.3L650.1 441.3L651.0 425.4L651.5 437.8L652.2 443.1L652.4 454.0L652.9 452.5L653.5 445.4L654.2 449.0L655.0 443.0L655.6 447.6L656.2 466.5L656.6 470.0L656.9 468.7L657.6 463.8L658.0 457.0L658.3 451.5L659.0 442.8L659.6 425.4L660.3 447.5L661.0 459.0L661.4 466.0L661.6 461.2L662.3 451.1L663.0 454.0L663.7 461.4L664.4 463.6L665.0 461.7L665.7 463.1L666.4 456.0L667.0 457.0L667.8 455.2L668.4 466.7L669.0 468.0L669.8 471.3L670.6 473.3L671.1 464.7L671.8 461.8L672.6 452.6L673.2 459.0L673.8 463.7L674.6 466.0L675.2 473.0L676.0 472.3L676.5 466.0L677.0 456.4L677.2 459.5L677.9 466.1L678.6 471.7L679.4 475.1L679.9 474.4L680.6 467.8L681.4 462.0L682.0 448.9L682.6 448.7L683.0 430.4L683.3 445.0L684.0 458.4L684.6 470.0L685.4 458.9L686.0 459.0L686.6 457.6L687.4 463.9L688.0 466.0L688.7 471.7L689.4 477.1L690.1 469.0L690.8 453.5L691.0 442.4L691.4 453.4L692.1 452.4L692.6 454.0L693.5 465.1L694.0 470.0L694.8 469.8L695.5 469.7L696.0 467.0L696.9 470.8L697.5 473.5L698.0 474.3L698.9 467.6L699.6 459.7L700.0 453.6L700.2 457.3L700.9 462.2L701.6 465.5L702.0 466.0L702.3 468.8L703.0 470.0L703.6 466.0L704.3 462.2L704.6 457.6L705.0 462.3L705.7 455.0L706.3 467.8L706.6 466.0L707.0 470.9L707.7 474.7L708.0 475.9L708.4 474.9L709.0 470.5L709.4 466.0L709.7 464.8L710.4 462.4L711.0 456.4L711.8 469.4L712.0 472.0L712.4 459.1L713.1 450.0L713.6 452.0L714.5 462.7L715.0 466.0L716.0 462.4L716.5 464.8L717.2 473.5L717.4 474.0L717.9 470.6L718.6 460.0L719.2 464.1L720.0 463.0L720.5 462.1L721.2 465.4L721.6 474.8L721.9 470.8L722.6 461.9L723.2 441.0L723.9 453.1L724.6 459.5L725.3 458.5L726.0 452.0L726.6 445.4L727.0 424.0L727.3 440.0L728.0 425.6L728.4 413.4L728.7 425.6L729.4 433.2L730.0 442.0L730.7 455.4L731.6 466.0L732.1 461.4L732.7 455.8L733.0 446.0L733.4 445.1L734.2 439.0L734.8 454.3L735.5 448.8L736.0 460.0L737.0 452.0L737.5 441.4L738.2 426.4L738.6 406.0L738.8 414.5L739.4 397.4L740.2 426.6L740.6 432.0L740.9 437.1L741.4 441.0L742.2 441.2L743.0 430.0L743.6 431.3L744.2 429.6L744.9 450.4L745.6 457.7L746.0 457.3L746.3 452.6L747.0 440.9L747.4 429.6L747.6 422.7L748.3 441.0L749.0 446.0L749.7 456.4L750.4 461.2L751.0 462.1L751.6 447.6L752.4 443.2L753.0 450.9L753.4 451.6L753.7 453.7L754.6 450.0L755.1 446.1L755.8 426.2L756.0 414.0L756.6 410.4L757.1 425.7L757.8 431.2L758.2 432.0L758.5 436.7L759.1 441.7L759.4 446.0L759.8 445.0L760.5 418.5L760.8 408.0L761.2 419.7L762.0 430.0L762.5 420.5L763.0 429.6L763.9 442.3L764.6 450.0L765.2 436.1L766.0 432.0L766.6 434.1L767.0 427.6L767.3 432.2L767.9 441.4L768.6 438.0L769.3 435.1L769.6 432.0L770.0 426.6L770.6 432.1L771.0 422.0L771.3 436.6L772.0 423.1L772.4 424.0L772.7 431.7L773.4 449.1L774.0 449.9L774.7 442.5L775.0 416.0L775.4 430.4L776.2 390.4L776.8 421.1L777.4 430.0L778.1 443.5L778.6 450.0L779.5 426.3L780.0 402.0L781.0 386.0L781.5 401.1L782.2 424.9L782.4 416.0L782.8 429.4L783.4 448.0L784.2 446.2L785.0 441.0L785.5 438.3L786.4 435.6L786.9 445.0L787.6 456.8L788.0 459.2L788.2 458.5L789.0 425.0L789.6 440.8L790.3 437.6L790.6 446.0L791.0 454.3L791.6 453.7L792.0 458.0L792.3 455.8L793.0 448.8L793.4 446.0L793.7 444.6L794.4 445.0L795.0 439.4L795.7 445.0L796.4 459.0L797.0 462.7L797.7 460.1L798.6 450.0L799.1 445.9L799.8 439.1L800.6 432.0L801.1 445.9L801.6 452.4L802.6 426.0L803.1 421.6L804.0 423.0L804.5 432.3L805.0 419.6L805.9 436.3L806.6 442.0L807.2 435.7L807.9 409.4L808.6 407.6L809.2 431.4L810.0 430.0L810.6 441.5L811.0 447.2L811.3 441.8L812.0 406.0L812.6 378.9L813.3 350.2L813.6 322.0L814.0 355.9L814.7 365.8L815.3 414.6L815.6 404.0L816.0 380.1L816.7 354.1L817.4 289.8L817.6 262.6L818.0 344.6L818.7 352.1L819.4 378.0L820.1 408.7L820.6 415.6L821.6 356.0L822.1 368.1L822.8 367.4L823.0 372.0L823.5 364.5L824.1 345.1L824.4 327.6L824.8 344.0L825.5 379.7L825.8 368.0L826.2 350.4L826.8 376.2L827.2 332.0L827.5 345.4L828.2 365.8L828.5 372.0L828.9 385.1L829.4 402.0L830.4 420.0L830.9 417.7L831.6 415.2L832.0 386.4L832.3 398.1L833.0 396.0L833.6 426.6L834.4 436.0L835.0 419.6L835.4 406.0L835.6 409.9L836.4 379.6L837.0 404.3L837.4 416.0L837.7 426.7L838.4 435.8L839.0 439.6L839.7 427.7L840.4 422.4L840.6 402.0L841.1 396.3L841.7 401.6L842.0 398.0L842.4 392.1L843.1 382.8L843.8 351.6L844.5 370.6L845.0 388.0L845.8 389.8L846.6 404.0L847.1 405.8L847.8 392.4L848.5 424.9L849.0 436.0L849.9 440.9L850.5 423.5L851.4 413.6L851.9 428.8L852.6 436.0L853.0 444.0L853.2 434.2L853.9 431.0L854.6 412.0L855.3 408.6L855.6 395.4L856.0 404.4L856.6 433.5L857.0 440.0L857.3 439.8L858.0 423.4L858.7 420.1L859.0 421.4L859.3 426.6L860.0 434.7L860.7 437.7L861.0 434.0L861.4 433.8L862.0 448.4L862.6 453.0L863.4 441.8L864.0 426.0L864.8 430.2L865.4 418.4L866.1 430.8L867.0 446.0L867.5 442.6L868.1 397.6L868.4 391.6L868.8 403.6L869.4 406.0L870.2 388.9L870.6 384.4L870.9 408.3L871.5 425.2L872.0 446.0L872.9 432.4L873.6 431.8L874.0 417.0L874.2 428.4L874.9 439.0L875.6 432.0L876.3 443.1L877.0 450.8L877.6 436.6L878.3 445.8L878.6 428.0L879.0 434.8L879.6 442.4L880.0 440.0L880.3 435.2L881.0 414.4L881.7 447.1L882.0 455.2L882.4 446.5L883.0 428.7L883.6 413.4L884.4 428.3L885.0 432.0L885.7 451.4L886.4 457.0L887.1 439.4L887.8 427.8L888.0 407.6L888.5 419.9L889.1 438.8L889.4 440.0L889.8 436.0L890.5 450.8L891.0 462.0L892.0 406.0L892.5 428.6L893.4 442.0L893.9 445.6L894.5 457.3L895.2 460.4L896.0 462.0L896.6 456.1L897.4 444.0L897.9 431.2L898.6 406.7L899.0 391.6L899.3 418.2L900.0 418.2L900.6 436.0L901.4 407.0L902.0 410.2L902.7 423.2L903.0 436.0L903.3 438.1L904.0 443.8L904.7 452.7L905.0 452.0L905.4 444.6L906.0 420.5L906.6 411.0L907.4 437.4L908.0 426.0L908.8 433.0L909.4 430.0L910.1 431.4L911.0 418.0L911.5 413.1L912.1 422.6L912.6 414.4L912.8 423.7L913.5 435.3L914.2 442.1L914.4 446.0L914.9 438.0L915.6 419.0L916.2 413.4L916.9 417.2L917.4 412.4L918.2 421.7L918.6 417.5L918.9 408.2L919.4 396.0L920.2 297.0L921.0 396.0L921.6 406.0L922.3 413.1L923.0 441.4L923.4 454.0L923.6 453.9L924.3 429.8L925.0 416.0L925.7 426.0L926.4 416.3L926.6 426.0L927.0 437.3L927.7 447.7L928.4 460.0L929.1 448.9L929.8 437.4L930.0 432.0L930.4 434.1L931.1 431.9L931.8 430.2L932.0 418.0L932.5 432.1L933.0 442.0L933.8 430.6L934.6 416.0L935.2 427.9L936.0 432.0L936.5 440.8L937.2 445.0L938.0 463.4L938.5 454.4L939.2 439.5L939.6 430.0L939.9 427.3L940.6 424.3L941.4 412.4L941.9 422.1L942.6 446.7L943.0 456.0L943.3 451.4L944.0 444.5L944.6 429.1L945.0 428.0L945.3 435.5L946.0 446.5L946.7 447.3L947.0 456.3L947.4 454.4L948.0 439.9L948.7 428.6L949.4 417.6L950.1 425.0L950.7 437.4L951.4 446.0L952.1 436.2L952.8 425.9L953.0 426.0L953.4 427.2L954.1 425.3L954.6 416.0L955.5 435.6L956.1 452.3L956.4 450.0L956.8 432.2L957.5 421.1L958.2 397.3L958.4 388.4L958.9 411.3L959.5 423.6L960.0 430.0L960.9 451.6L961.4 459.3L962.4 419.0L962.9 424.4L963.6 439.5L964.0 432.0L964.3 438.3L965.0 441.4L965.6 450.0L966.3 443.8L967.0 415.9L967.4 395.6L967.7 417.7L968.3 420.5L969.0 436.0L969.7 443.2L970.4 458.5L970.6 452.4L971.0 446.7L971.7 434.6L972.0 424.0L972.4 422.1L973.1 423.1L973.8 433.8L974.4 409.6L975.1 438.6L975.6 450.3L976.5 428.3L977.0 407.0L977.8 427.6L978.6 422.0L979.2 437.9L980.0 451.4L980.5 435.1L981.4 396.0L981.9 396.7L982.3 338.5L982.5 345.1L983.2 379.5L983.6 388.3L983.9 371.1L984.6 332.3L985.3 336.9L985.9 359.3L986.2 249.5L986.6 268.1L987.3 298.4L988.0 345.6L988.8 384.8L989.3 377.4L990.0 365.1L990.5 358.8L991.4 350.9L992.0 344.5L992.8 327.7L993.4 331.6L994.1 329.2L994.7 384.9L995.1 325.4L995.4 389.8L996.1 359.4L996.8 368.0L997.0 381.6L997.5 360.6L998.1 345.7L998.8 309.5L999.3 296.5L1000.2 382.4L1000.8 268.4L1001.3 274.6L1001.5 264.4L1002.2 272.3L1002.9 280.8L1003.2 280.0L1003.5 285.6L1004.2 357.6L1004.6 291.6L1004.9 371.0L1005.6 342.8L1006.2 368.7L1006.5 381.7L1006.9 382.4L1007.6 371.0L1008.3 360.5L1009.1 355.5L1009.6 403.2L1010.3 311.3L1011.1 286.1L1011.7 313.7L1012.3 338.3L1013.1 368.6L1013.7 372.1L1014.4 371.6L1015.0 386.2L1015.7 388.3L1016.4 385.3L1017.1 390.6L1017.8 395.9L1018.3 391.6L1019.1 430.4L1019.8 416.7L1020.6 434.1L1021.1 418.7L1021.8 404.5L1022.5 387.9L1023.2 395.4L1023.9 357.2L1024.5 382.7L1025.2 420.4L1025.5 430.9L1025.9 418.6L1026.6 387.9L1027.2 364.5L1027.8 342.6L1028.6 362.9L1029.5 375.1L1029.9 354.6L1030.6 320.2L1031.3 287.4L1032.1 252.2L1032.7 366.1L1033.3 376.8L1034.0 342.4L1034.7 350.7L1035.4 365.9L1036.0 378.4L1036.7 353.6L1037.4 355.9L1037.7 340.9L1038.1 355.7L1038.7 383.4L1039.3 394.8L1040.1 340.7L1040.8 307.4L1041.5 278.3L1041.9 241.2L1042.1 339.9L1042.8 314.4L1043.5 364.2L1043.9 401.4L1044.2 404.3L1044.8 405.1L1045.5 409.2L1045.8 414.5L1046.2 411.9L1046.9 404.2L1047.5 443.9L1047.8 391.6L1048.2 403.6L1048.9 413.1L1049.6 430.6L1050.1 440.6L1050.9 430.9L1051.6 416.8L1052.3 411.3L1052.7 404.6L1053.0 405.2L1053.6 397.5L1054.3 390.1L1055.0 381.7L1055.7 366.9L1056.3 400.8L1057.0 332.6L1057.7 341.6L1058.4 347.1L1059.0 349.0L1059.7 332.7L1060.3 332.6L1061.1 404.2L1061.8 409.1L1062.2 375.2L1063.1 374.5L1063.9 371.9L1064.5 375.3L1065.2 364.0L1065.8 367.0L1066.5 422.1L1067.2 400.3L1067.9 413.2L1068.1 421.1L1068.5 429.6L1069.2 432.7L1069.8 443.9L1070.6 425.9L1071.2 441.1L1071.7 399.8L1072.6 415.9L1073.3 431.0L1074.0 443.9L1074.6 428.6L1075.3 403.2L1076.0 444.3L1076.7 394.1L1077.3 398.8L1078.0 391.6L1078.7 406.1L1079.4 410.7L1079.6 414.5L1080.0 402.9L1080.7 382.9L1081.2 357.2L1082.1 372.1L1082.9 378.5L1083.4 346.3L1084.2 289.5L1084.8 347.9L1085.5 370.2L1086.2 319.6L1086.8 346.2L1087.5 365.2L1087.8 385.0L1088.2 381.7L1088.8 393.8L1089.5 383.8L1090.4 388.4L1090.9 398.8L1091.5 421.3L1092.4 440.7L1092.9 415.1L1093.6 388.7L1094.3 349.0L1094.9 416.8L1095.6 374.3L1096.3 388.2L1097.0 393.7L1097.6 388.2L1098.3 386.0L1098.6 385.1L1099.0 425.8L1099.7 404.8L1100.3 418.7L1101.0 424.5L1101.5 435.7L1102.4 404.9L1103.1 366.8L1103.5 355.6L1103.7 387.6L1104.4 403.7L1105.2 318.8L1105.8 324.8L1106.4 342.7L1106.8 355.5L1107.1 343.2L1107.8 336.2L1108.1 319.5L1108.5 396.2L1109.2 391.7L1109.8 342.3L1110.1 352.2L1110.5 352.8L1111.2 337.8L1112.0 342.4L1112.5 333.7L1113.2 360.2L1113.7 303.1L1113.9 407.5L1114.6 315.9L1115.3 332.6L1115.9 349.4L1116.6 366.8L1117.3 375.1L1118.0 370.3L1118.6 418.5L1119.3 352.4L1119.6 353.9L1120.0 368.5L1120.7 374.7L1121.5 398.0L1122.0 387.8L1122.7 408.2L1123.4 426.0L1123.8 354.0L1124.0 364.2L1124.7 391.2L1125.5 420.9L1126.1 404.0L1126.8 370.3L1127.1 358.9L1127.4 407.8L1128.1 406.5L1128.8 350.5L1129.1 349.0L1129.5 367.5L1130.1 404.0L1130.4 421.1L1130.8 404.5L1131.7 365.4L1132.2 381.0L1132.8 410.7L1133.7 388.2L1134.2 381.1L1134.9 351.4L1135.6 337.6L1136.2 358.9L1136.9 412.6L1137.3 388.3L1137.6 399.0L1138.3 410.0L1138.9 427.5L1139.5 440.6L1140.3 423.8L1141.0 406.1L1141.8 381.8L1142.3 436.3L1143.0 403.2L1143.7 422.5L1144.1 430.9L1145.0 399.1L1145.7 371.2L1146.1 355.5L1146.4 354.9L1147.1 384.2L1147.8 319.5L1148.4 309.5L1149.1 305.4L1149.4 309.7L1149.8 305.6L1150.5 306.8L1151.3 288.6L1151.8 378.5L1152.5 287.4L1153.3 296.5L1153.8 302.4L1154.5 287.8L1155.3 286.2L1155.9 340.5L1156.5 404.4L1157.2 309.7L1157.9 321.2L1158.6 316.7L1159.2 304.4L1159.9 306.1L1160.6 360.9L1161.3 406.2L1161.6 313.0L1162.0 322.3L1162.6 354.7L1163.3 385.0L1164.0 373.2L1164.7 366.1L1165.3 395.6L1165.6 355.5L1166.0 355.8L1166.7 358.3L1167.2 346.4L1168.0 337.0L1168.7 308.7L1169.2 300.0L1169.4 295.9L1170.1 316.9L1170.5 237.5L1170.8 387.9L1171.4 300.9L1172.1 355.3L1172.8 344.1L1173.5 334.5L1173.8 329.3L1174.1 312.2L1174.8 343.0L1175.5 386.9L1175.7 272.0L1176.2 284.9L1177.0 283.7L1177.5 316.2L1178.0 348.9L1178.9 342.3L1179.6 378.9L1180.3 326.1L1180.9 343.0L1181.6 340.4L1182.3 349.0L1183.0 352.8L1183.6 340.4L1184.3 406.3L1184.6 345.7L1185.0 416.5L1185.7 403.9L1186.2 434.0L1187.0 396.8L1187.8 355.6L1188.4 347.6L1189.0 383.9L1189.5 350.6L1189.7 423.6L1190.4 352.5L1191.1 362.0L1191.8 351.6L1192.1 355.5L1192.4 363.9L1193.1 372.0L1193.8 377.8L1194.1 375.1L1194.5 370.7L1195.1 338.9L1195.8 333.4L1196.0 316.3L1196.5 300.5L1197.2 310.8L1197.8 290.4L1198.7 296.3L1199.2 392.1L1199.9 384.5L1200.3 421.0L1200.5 415.1L1201.2 386.7L1201.9 370.2L1202.6 342.5L1203.3 379.2L1203.9 348.2L1204.6 355.5L1205.3 339.0L1206.0 338.6L1206.5 322.6L1207.3 257.2L1208.0 281.6L1208.7 177.7L1209.3 263.7L1209.8 322.3L1210.0 308.1L1210.7 300.2L1211.3 290.0L1212.1 328.3L1212.4 329.2L1212.7 342.5L1213.4 375.2L1214.1 414.4L1214.8 390.7L1215.4 360.0L1216.1 343.3L1216.4 329.4L1216.8 326.9L1217.5 395.7L1218.3 355.5L1218.8 351.6L1219.5 342.8L1220.0 339.2L1220.2 341.7L1220.9 332.4L1221.6 334.3L1222.2 355.8L1222.9 390.7L1223.6 417.6L1224.2 367.3L1224.9 328.9L1225.5 280.1L1226.3 316.4L1226.8 345.6L1227.6 343.5L1228.3 352.1L1228.8 355.5L1229.7 352.9L1230.3 328.7L1231.0 326.2L1231.4 322.8L1231.7 398.4L1232.4 410.6L1233.0 347.3L1233.4 355.5L1233.7 344.6L1234.4 341.1L1235.1 337.9L1235.4 335.9L1235.8 328.8L1236.4 381.4L1237.0 296.3L1237.8 324.1L1238.6 355.6L1239.1 362.7L1239.8 373.0L1240.5 385.4L1240.9 398.1L1241.2 403.9L1241.8 414.5L1242.6 417.7L1243.2 394.4L1243.9 366.5L1244.2 353.9L1244.5 350.1L1245.2 356.7L1245.8 368.8L1246.6 426.0L1247.3 416.8L1247.5 427.5L1247.9 407.4L1248.6 387.3L1249.1 370.3L1250.0 371.4L1250.7 417.9L1251.1 381.8L1251.3 437.7L1252.0 406.8L1252.7 434.0L1253.3 415.7L1254.0 383.9L1254.4 373.7L1254.7 373.9L1255.4 430.5L1256.1 433.2L1256.3 398.1L1256.7 394.1L1257.4 403.7L1258.3 401.5L1258.8 407.2L1259.5 421.9L1260.1 435.4L1260.9 447.2L1261.5 426.4L1262.2 403.3L1262.6 393.2L1262.8 394.6L1263.5 397.1L1264.2 388.5L1264.8 391.6L1265.5 419.9L1266.2 375.1L1266.8 370.3L1267.6 370.8L1268.2 380.7L1268.8 385.0L1269.6 414.9L1270.4 447.2L1271.0 428.0L1271.6 400.7L1272.4 368.1L1273.0 388.7L1273.7 409.2L1274.3 433.4L1274.7 444.0L1275.0 433.8L1275.7 416.9L1276.4 398.3L1277.0 375.9L1277.7 396.5L1278.4 417.4L1279.1 429.8L1279.6 443.9L1280.4 422.9L1281.2 398.2L1281.8 387.5L1282.5 366.6L1283.2 349.0L1283.8 392.8L1284.5 346.4L1285.2 351.1L1285.8 369.7L1286.2 375.0L1286.5 357.1L1287.2 325.5L1287.8 296.6L1288.6 369.2L1289.1 372.1L1289.9 396.5L1290.4 417.7L1291.3 401.7L1291.7 401.5L1291.9 407.1L1292.6 420.1L1293.3 428.5L1293.7 432.5L1294.0 433.4L1294.7 430.7L1295.3 428.2L1296.0 421.1L1296.7 419.3L1297.4 423.9L1297.6 424.3L1298.0 427.7L1298.7 439.5L1299.2 450.5L1300.1 416.2L1300.9 383.4L1301.4 394.1L1302.1 388.7L1302.8 414.8L1303.2 404.6L1303.5 431.6L1304.1 393.9L1304.8 381.7L1305.5 378.5L1306.2 400.5L1306.8 423.3L1307.4 443.9L1308.2 421.2L1309.1 401.5L1309.5 403.9L1310.2 403.7L1310.9 399.1L1311.4 395.0L1312.2 424.9L1312.7 443.8L1312.9 429.8L1313.6 397.1L1314.0 381.8L1314.3 389.2L1315.0 392.6L1315.6 404.8L1316.3 420.5L1317.0 437.0L1317.3 447.2L1317.7 434.0L1318.3 407.3L1318.9 381.8L1319.7 391.7L1320.5 411.2L1321.0 423.6L1321.7 436.6L1322.2 447.2L1322.4 439.8L1323.1 426.0L1323.8 403.1L1324.4 417.6L1325.1 431.0L1325.8 440.8L1326.5 453.8L1327.2 434.8L1327.8 415.4L1328.4 395.0L1329.2 415.2L1329.8 424.9L1330.4 437.4L1331.2 425.5L1331.9 436.2L1332.7 394.3L1333.2 391.4L1333.9 393.6L1334.6 398.1" fill="none" stroke="#ffa20e" stroke-width="1.1" stroke-linejoin="round"/>
<defs><linearGradient id="gg" x1="0" y1="0" x2="0" y2="1"><stop offset="0" stop-color="#ffa20e"/><stop offset="0.3" stop-color="#e8950f"/><stop offset="0.62" stop-color="#6b4c14"/><stop offset="1" stop-color="#1c1a14"/></linearGradient></defs>
<rect x="129.00" y="363.4" width="1.05" height="119.6" fill="url(#gg)"/>
<rect x="204.35" y="410.1" width="1.05" height="72.9" fill="url(#gg)"/>
<rect x="245.20" y="416.0" width="1.05" height="67.0" fill="url(#gg)"/>
<rect x="248.65" y="415.7" width="1.05" height="67.3" fill="url(#gg)"/>
<rect x="259.60" y="400.8" width="1.05" height="82.2" fill="url(#gg)"/>
<rect x="295.60" y="443.8" width="1.05" height="39.2" fill="url(#gg)"/>
<rect x="494.00" y="405.1" width="1.05" height="77.9" fill="url(#gg)"/>
<g fill="#ffffff" opacity="0.62">
<path transform="translate(0,-1.5)" d="M1139.6 441.2c-2 -0.6 -3.6 0.3 -4.5 2c1.2 1.9 3 2.7 4.6 2.6c-0.6 1.6 -0.7 3.3 -0.3 4.9c0.7 2.6 2.4 4.3 4.6 5.2c-2.3 0.9 -3.8 2.4 -3.9 4.3c-0.1 1.7 1.3 2.9 3.1 3.3l0.3 2.1c-1 1.5 -2.6 2.4 -4.4 2.9l0.3 0.5c2.6 -0.3 4.4 -1.3 5.6 -2.7c1.1 0.6 2.3 0.7 3.3 0.2l0.6 -2.4l1.2 0l0.7 2.6c1.4 0.6 3 0.6 4.3 -0.2l0.3 -2.7c1.8 -0.5 3.2 -1.7 3.2 -3.6c0 -1.8 -1.3 -3.3 -3.4 -4.2c2 -1.2 3.6 -3.1 4.1 -5.6c0.3 -1.3 0.2 -2.6 -0.1 -3.9c1.8 0.1 3.4 -0.9 4.4 -2.8c-1 -1.8 -2.9 -2.7 -5 -2.2c0.3 -1.5 0 -3 -0.7 -4.4c-1.6 0.6 -2.7 1.8 -3.2 3.1c-1.7 -1 -3.7 -1.5 -5.8 -1.5c-2.1 0 -4 0.5 -5.6 1.4c-0.5 -1.3 -1.5 -2.3 -3 -2.8c-0.8 1.2 -1.1 2.5 -0.8 3.9z"/>
<text x="1170.6" y="458.3" font-family="Liberation Sans, sans-serif" font-weight="bold" font-size="21.6" stroke="#fff" stroke-width="0.7" stroke-linejoin="round" textLength="88.6" lengthAdjust="spacingAndGlyphs">coinglass</text></g>
<rect x="847.7" y="507.9" width="490.0" height="74.8" fill="#131a2c"/>
<path d="M739.3 582.7L739.3 582.4L739.5 568.3L740.0 567.0L741.4 566.7L742.0 566.2L742.7 566.1L744.1 566.9L745.4 567.2L746.8 566.4L748.1 566.6L749.4 567.9L749.5 568.6L750.8 567.2L752.2 567.0L753.5 568.3L754.9 567.1L756.2 567.6L757.6 566.7L758.0 566.7L758.9 567.1L760.3 566.2L761.6 567.4L763.0 568.0L764.3 567.5L765.7 568.1L767.0 568.1L768.4 567.1L769.7 568.6L771.1 568.5L772.4 568.0L773.8 567.7L774.1 568.6L775.1 569.2L776.5 568.3L777.8 568.6L779.2 568.7L780.5 568.2L781.9 568.4L783.2 567.2L784.6 567.8L785.9 567.0L787.3 567.7L788.6 567.5L788.9 566.7L790.0 566.1L791.3 566.4L792.7 566.9L794.0 568.6L795.4 567.8L796.7 568.5L798.1 568.1L798.8 568.6L799.4 568.5L800.8 567.8L802.1 567.3L803.5 567.3L804.8 566.8L806.2 567.0L807.5 566.2L808.6 565.4L808.9 566.3L810.2 566.5L811.6 567.0L812.9 566.6L814.3 565.9L814.8 566.7L815.6 566.8L817.0 565.8L818.3 564.7L818.5 563.7L819.7 564.3L821.0 564.6L822.4 559.5L823.5 554.9L823.7 554.9L825.1 560.1L825.9 561.7L826.4 562.4L827.8 563.5L828.4 564.7L829.1 563.1L830.5 563.3L831.8 562.3L833.2 559.1L833.3 559.8L834.5 561.4L835.9 561.8L837.0 562.9L837.2 562.1L838.6 561.0L839.9 560.6L840.7 559.3L841.3 560.6L842.6 560.2L844.0 562.7L844.4 562.9L845.3 561.1L846.7 560.8L847.7 559.1L847.7 582.7Z" fill="#121a2b"/>
<path d="M847.7 582.7L847.7 559.1L848.0 558.6L848.1 558.8L849.4 560.8L850.7 562.3L851.1 561.7L852.1 559.8L853.4 558.3L854.3 555.6L854.8 555.0L856.1 553.9L857.5 554.3L858.0 553.8L858.8 554.6L860.2 558.0L860.5 559.3L861.5 559.4L862.9 560.3L864.2 560.5L865.6 559.3L866.9 558.7L867.9 559.3L868.3 560.6L869.6 561.4L871.0 564.7L871.6 564.7L872.3 565.2L873.7 563.4L875.0 563.0L876.4 562.4L877.7 562.1L877.8 561.7L879.1 561.0L880.4 560.1L881.5 559.3L881.8 559.7L883.1 561.0L884.5 560.9L885.2 561.2L885.8 560.1L887.2 558.3L888.1 556.4L888.5 556.4L889.9 558.9L891.2 562.4L891.4 561.7L892.6 561.4L893.9 561.0L895.1 560.5L895.3 559.5L896.6 559.9L898.0 559.9L899.3 558.5L900.0 559.3L900.7 558.1L901.5 556.3L902.0 561.0L902.1 578.2L903.4 582.2L904.6 577.1L904.7 561.3L904.9 554.4L906.1 556.9L907.4 559.2L908.8 559.1L910.1 560.9L911.5 561.2L912.3 561.7L912.8 562.4L914.2 562.5L915.5 564.0L916.9 564.9L917.3 564.7L918.2 563.3L919.6 562.7L920.9 563.4L921.0 562.9L922.3 560.6L923.6 555.9L924.0 555.7L925.0 558.7L925.9 561.6L926.3 561.7L927.7 560.2L929.0 559.4L929.6 559.3L930.4 559.7L931.7 561.1L933.1 562.9L933.3 562.9L934.4 563.3L935.8 564.4L937.0 565.4L937.1 565.9L938.5 563.0L939.8 562.8L941.2 561.7L942.5 559.6L943.2 559.3L943.9 560.0L945.2 563.6L946.6 565.1L946.9 566.1L947.9 563.7L949.3 561.6L950.6 559.3L952.0 554.8L953.1 550.7L953.3 550.8L954.7 557.5L955.6 561.8L956.0 561.8L957.4 563.9L958.7 564.1L959.3 564.6L960.1 563.0L961.4 557.9L962.5 555.6L962.8 556.1L964.1 559.9L965.4 562.9L965.5 563.8L966.8 563.3L968.2 563.3L969.1 564.2L969.5 562.9L970.9 561.6L971.6 560.5L972.2 560.3L973.6 562.4L974.9 563.3L976.3 562.9L976.5 563.7L977.6 562.1L979.0 561.7L980.2 559.8L980.3 560.1L981.7 562.6L983.0 563.7L984.0 565.3L984.4 563.8L985.7 561.4L986.9 559.3L987.1 560.2L988.4 561.3L989.8 563.8L990.1 564.7L991.1 563.4L992.5 561.8L993.8 560.5L995.2 562.1L996.5 564.9L997.5 565.4L997.9 564.2L999.2 561.9L1000.0 561.7L1000.6 563.1L1001.9 563.9L1003.3 565.2L1004.6 565.0L1004.9 565.4L1006.0 566.5L1007.3 566.6L1008.7 565.3L1010.0 566.5L1011.1 566.2L1011.4 566.9L1012.7 566.8L1014.1 566.7L1015.4 566.4L1016.8 566.8L1017.3 567.1L1018.1 565.7L1019.5 563.8L1020.8 563.4L1021.0 563.0L1022.2 563.0L1023.5 564.5L1024.9 563.4L1025.9 564.7L1026.2 565.4L1027.6 564.3L1028.9 564.2L1029.6 563.0L1030.3 564.1L1031.6 564.7L1033.0 564.7L1033.3 564.7L1034.3 562.1L1035.7 561.2L1036.3 559.8L1037.0 560.5L1038.4 562.0L1039.7 564.2L1040.7 566.2L1041.1 566.2L1042.4 565.1L1043.8 563.9L1044.4 563.7L1045.1 563.3L1046.5 560.2L1046.9 559.3L1047.8 561.0L1049.2 563.9L1049.3 564.6L1050.5 565.8L1051.9 565.4L1053.2 566.4L1054.3 566.2L1054.6 565.7L1055.9 564.5L1057.3 564.3L1058.6 564.0L1059.2 563.0L1060.0 562.9L1061.3 565.0L1061.7 564.7L1062.7 563.5L1064.0 560.7L1064.2 559.8L1065.4 562.1L1066.7 562.2L1067.9 564.7L1068.1 565.0L1069.4 565.8L1070.8 564.5L1072.1 565.3L1073.5 565.6L1074.0 566.2L1074.8 566.1L1076.2 565.6L1077.5 565.4L1077.7 565.4L1078.9 564.8L1080.2 563.0L1081.6 564.3L1082.7 567.1L1082.9 566.1L1084.3 565.3L1085.6 564.5L1086.4 564.7L1087.0 564.2L1088.3 566.7L1089.7 567.2L1090.1 566.7L1091.0 565.4L1092.4 565.4L1093.7 564.4L1093.8 564.7L1095.0 560.5L1095.5 559.3L1096.4 561.4L1097.5 564.7L1097.7 564.9L1099.1 564.3L1100.4 563.4L1101.8 562.6L1102.4 563.0L1103.1 562.8L1104.5 562.6L1105.8 563.7L1106.1 563.7L1107.2 563.4L1108.5 561.9L1109.8 561.3L1109.9 560.4L1111.2 561.2L1112.6 562.3L1113.5 562.9L1113.9 562.5L1115.3 560.2L1116.5 557.3L1116.6 557.3L1118.0 561.7L1119.3 564.6L1119.7 565.4L1120.7 564.4L1122.0 563.2L1123.4 562.2L1124.7 560.0L1125.4 558.8L1126.1 560.9L1127.1 562.9L1127.4 562.0L1128.8 558.6L1128.9 557.9L1130.1 554.2L1131.3 550.7L1131.5 550.3L1132.8 552.6L1134.2 554.8L1134.5 554.8L1135.5 555.4L1136.9 558.3L1138.2 560.4L1139.6 559.0L1140.9 558.6L1141.9 556.8L1142.3 558.1L1143.6 558.5L1145.0 561.3L1145.6 561.2L1146.3 561.5L1147.7 559.7L1149.0 559.4L1149.3 559.3L1150.4 557.0L1151.1 556.8L1151.7 558.6L1153.1 561.0L1154.3 563.0L1154.4 563.8L1155.8 564.3L1157.1 564.6L1158.0 564.7L1158.5 564.0L1159.8 560.7L1161.0 558.2L1161.2 558.2L1162.5 564.0L1162.9 565.3L1163.9 562.0L1165.2 559.0L1165.4 559.3L1166.6 560.2L1167.9 559.2L1169.1 560.5L1169.3 559.5L1170.6 558.7L1172.0 559.3L1172.8 558.0L1173.3 558.4L1174.7 560.9L1175.3 562.9L1176.0 562.6L1177.4 559.0L1177.7 559.3L1178.7 561.4L1180.1 563.1L1181.4 564.6L1182.8 563.8L1184.1 562.6L1185.1 560.5L1185.5 560.4L1186.8 560.1L1188.1 558.8L1188.2 558.0L1189.5 561.7L1190.9 563.5L1191.3 564.2L1192.2 564.6L1193.6 560.9L1194.9 562.9L1195.0 561.7L1196.3 549.3L1197.6 547.9L1198.2 544.5L1199.0 546.3L1200.0 553.0L1200.3 551.7L1201.7 550.1L1201.9 549.5L1203.0 552.2L1204.4 551.3L1204.9 553.1L1205.7 551.3L1207.1 550.9L1207.4 551.9L1208.4 554.1L1209.8 557.0L1211.1 558.1L1212.5 560.6L1212.8 561.7L1213.8 556.2L1215.2 549.3L1215.3 549.2L1216.5 540.7L1217.2 536.8L1217.9 544.8L1219.0 559.2L1219.2 556.4L1220.6 552.2L1221.0 550.9L1221.9 558.1L1222.7 560.5L1223.3 559.4L1224.6 559.4L1225.9 556.8L1226.0 555.1L1227.3 555.2L1227.6 553.9L1228.7 557.9L1229.6 559.2L1230.0 558.2L1230.8 553.9L1231.4 555.4L1232.7 558.8L1233.3 560.5L1234.1 560.1L1235.4 559.5L1236.5 556.3L1236.8 554.2L1238.1 551.7L1238.7 552.4L1239.5 556.1L1240.7 559.2L1240.8 560.8L1242.2 555.5L1242.4 554.9L1243.5 554.8L1244.9 556.3L1245.6 555.5L1246.2 552.8L1247.6 549.6L1248.1 549.4L1248.9 549.2L1250.3 553.0L1250.6 553.0L1251.6 549.8L1252.3 548.9L1253.0 549.7L1254.3 555.4L1255.5 558.0L1255.7 560.1L1257.0 557.9L1258.0 559.2L1258.4 559.5L1259.7 556.3L1260.5 555.7L1261.1 558.9L1262.2 560.4L1262.4 559.2L1263.8 546.8L1264.2 545.1L1265.1 547.6L1266.1 552.9L1266.5 549.2L1267.8 544.7L1267.9 544.6L1269.2 551.3L1270.3 557.8L1270.5 554.7L1271.9 540.2L1272.1 539.2L1273.2 543.0L1274.5 549.3L1274.6 550.6L1275.9 548.5L1277.0 550.6L1277.3 554.1L1278.6 557.5L1279.0 559.1L1280.0 553.9L1281.0 548.0L1281.3 547.2L1282.7 544.1L1284.0 556.5L1284.7 560.2L1285.4 556.9L1286.7 547.1L1286.9 545.7L1288.1 544.8L1288.9 544.5L1289.4 546.2L1290.8 548.9L1291.3 548.1L1292.1 551.2L1293.5 559.0L1293.8 559.2L1294.8 556.9L1295.8 550.6L1296.2 550.8L1297.5 551.8L1298.7 539.3L1298.9 538.8L1300.2 546.5L1300.7 550.6L1301.6 555.2L1302.9 560.2L1303.2 560.4L1304.3 557.7L1304.9 553.1L1305.6 556.4L1307.0 557.2L1307.4 559.2L1308.3 555.9L1309.7 553.2L1310.6 552.5L1311.0 553.5L1312.3 562.9L1312.4 563.5L1313.7 558.6L1314.0 555.7L1315.1 558.6L1316.0 558.0L1316.4 555.3L1317.8 551.8L1318.0 549.4L1319.1 552.7L1320.5 558.5L1321.0 560.5L1321.8 560.8L1323.2 556.7L1324.5 555.6L1324.7 557.3L1325.9 559.0L1327.2 556.9L1328.4 557.9L1328.6 556.7L1329.9 554.0L1330.1 553.2L1331.3 562.8L1332.6 560.1L1333.3 557.3L1334.0 556.0L1335.3 559.2L1335.8 560.5L1336.7 559.0L1337.7 558.1L1337.7 582.7Z" fill="#2b3553"/>
<path d="M112.0 582.4L739.3 582.4" fill="none" stroke="#1f3b85" stroke-width="1" stroke-dasharray="3 1.2" opacity="0.85"/>
<path d="M739.3 582.4L739.5 568.3L740.0 567.0L741.4 566.7L742.0 566.2L742.7 566.1L744.1 566.9L745.4 567.2L746.8 566.4L748.1 566.6L749.4 567.9L749.5 568.6L750.8 567.2L752.2 567.0L753.5 568.3L754.9 567.1L756.2 567.6L757.6 566.7L758.0 566.7L758.9 567.1L760.3 566.2L761.6 567.4L763.0 568.0L764.3 567.5L765.7 568.1L767.0 568.1L768.4 567.1L769.7 568.6L771.1 568.5L772.4 568.0L773.8 567.7L774.1 568.6L775.1 569.2L776.5 568.3L777.8 568.6L779.2 568.7L780.5 568.2L781.9 568.4L783.2 567.2L784.6 567.8L785.9 567.0L787.3 567.7L788.6 567.5L788.9 566.7L790.0 566.1L791.3 566.4L792.7 566.9L794.0 568.6L795.4 567.8L796.7 568.5L798.1 568.1L798.8 568.6L799.4 568.5L800.8 567.8L802.1 567.3L803.5 567.3L804.8 566.8L806.2 567.0L807.5 566.2L808.6 565.4L808.9 566.3L810.2 566.5L811.6 567.0L812.9 566.6L814.3 565.9L814.8 566.7L815.6 566.8L817.0 565.8L818.3 564.7L818.5 563.7L819.7 564.3L821.0 564.6L822.4 559.5L823.5 554.9L823.7 554.9L825.1 560.1L825.9 561.7L826.4 562.4L827.8 563.5L828.4 564.7L829.1 563.1L830.5 563.3L831.8 562.3L833.2 559.1L833.3 559.8L834.5 561.4L835.9 561.8L837.0 562.9L837.2 562.1L838.6 561.0L839.9 560.6L840.7 559.3L841.3 560.6L842.6 560.2L844.0 562.7L844.4 562.9L845.3 561.1L846.7 560.8L847.7 559.1" fill="none" stroke="#2f5fc4" stroke-width="1" stroke-linejoin="round"/>
<path d="M847.7 559.1L848.0 558.6L848.1 558.8L849.4 560.8L850.7 562.3L851.1 561.7L852.1 559.8L853.4 558.3L854.3 555.6L854.8 555.0L856.1 553.9L857.5 554.3L858.0 553.8L858.8 554.6L860.2 558.0L860.5 559.3L861.5 559.4L862.9 560.3L864.2 560.5L865.6 559.3L866.9 558.7L867.9 559.3L868.3 560.6L869.6 561.4L871.0 564.7L871.6 564.7L872.3 565.2L873.7 563.4L875.0 563.0L876.4 562.4L877.7 562.1L877.8 561.7L879.1 561.0L880.4 560.1L881.5 559.3L881.8 559.7L883.1 561.0L884.5 560.9L885.2 561.2L885.8 560.1L887.2 558.3L888.1 556.4L888.5 556.4L889.9 558.9L891.2 562.4L891.4 561.7L892.6 561.4L893.9 561.0L895.1 560.5L895.3 559.5L896.6 559.9L898.0 559.9L899.3 558.5L900.0 559.3L900.7 558.1L901.5 556.3L902.0 561.0L902.1 578.2L903.4 582.2L904.6 577.1L904.7 561.3L904.9 554.4L906.1 556.9L907.4 559.2L908.8 559.1L910.1 560.9L911.5 561.2L912.3 561.7L912.8 562.4L914.2 562.5L915.5 564.0L916.9 564.9L917.3 564.7L918.2 563.3L919.6 562.7L920.9 563.4L921.0 562.9L922.3 560.6L923.6 555.9L924.0 555.7L925.0 558.7L925.9 561.6L926.3 561.7L927.7 560.2L929.0 559.4L929.6 559.3L930.4 559.7L931.7 561.1L933.1 562.9L933.3 562.9L934.4 563.3L935.8 564.4L937.0 565.4L937.1 565.9L938.5 563.0L939.8 562.8L941.2 561.7L942.5 559.6L943.2 559.3L943.9 560.0L945.2 563.6L946.6 565.1L946.9 566.1L947.9 563.7L949.3 561.6L950.6 559.3L952.0 554.8L953.1 550.7L953.3 550.8L954.7 557.5L955.6 561.8L956.0 561.8L957.4 563.9L958.7 564.1L959.3 564.6L960.1 563.0L961.4 557.9L962.5 555.6L962.8 556.1L964.1 559.9L965.4 562.9L965.5 563.8L966.8 563.3L968.2 563.3L969.1 564.2L969.5 562.9L970.9 561.6L971.6 560.5L972.2 560.3L973.6 562.4L974.9 563.3L976.3 562.9L976.5 563.7L977.6 562.1L979.0 561.7L980.2 559.8L980.3 560.1L981.7 562.6L983.0 563.7L984.0 565.3L984.4 563.8L985.7 561.4L986.9 559.3L987.1 560.2L988.4 561.3L989.8 563.8L990.1 564.7L991.1 563.4L992.5 561.8L993.8 560.5L995.2 562.1L996.5 564.9L997.5 565.4L997.9 564.2L999.2 561.9L1000.0 561.7L1000.6 563.1L1001.9 563.9L1003.3 565.2L1004.6 565.0L1004.9 565.4L1006.0 566.5L1007.3 566.6L1008.7 565.3L1010.0 566.5L1011.1 566.2L1011.4 566.9L1012.7 566.8L1014.1 566.7L1015.4 566.4L1016.8 566.8L1017.3 567.1L1018.1 565.7L1019.5 563.8L1020.8 563.4L1021.0 563.0L1022.2 563.0L1023.5 564.5L1024.9 563.4L1025.9 564.7L1026.2 565.4L1027.6 564.3L1028.9 564.2L1029.6 563.0L1030.3 564.1L1031.6 564.7L1033.0 564.7L1033.3 564.7L1034.3 562.1L1035.7 561.2L1036.3 559.8L1037.0 560.5L1038.4 562.0L1039.7 564.2L1040.7 566.2L1041.1 566.2L1042.4 565.1L1043.8 563.9L1044.4 563.7L1045.1 563.3L1046.5 560.2L1046.9 559.3L1047.8 561.0L1049.2 563.9L1049.3 564.6L1050.5 565.8L1051.9 565.4L1053.2 566.4L1054.3 566.2L1054.6 565.7L1055.9 564.5L1057.3 564.3L1058.6 564.0L1059.2 563.0L1060.0 562.9L1061.3 565.0L1061.7 564.7L1062.7 563.5L1064.0 560.7L1064.2 559.8L1065.4 562.1L1066.7 562.2L1067.9 564.7L1068.1 565.0L1069.4 565.8L1070.8 564.5L1072.1 565.3L1073.5 565.6L1074.0 566.2L1074.8 566.1L1076.2 565.6L1077.5 565.4L1077.7 565.4L1078.9 564.8L1080.2 563.0L1081.6 564.3L1082.7 567.1L1082.9 566.1L1084.3 565.3L1085.6 564.5L1086.4 564.7L1087.0 564.2L1088.3 566.7L1089.7 567.2L1090.1 566.7L1091.0 565.4L1092.4 565.4L1093.7 564.4L1093.8 564.7L1095.0 560.5L1095.5 559.3L1096.4 561.4L1097.5 564.7L1097.7 564.9L1099.1 564.3L1100.4 563.4L1101.8 562.6L1102.4 563.0L1103.1 562.8L1104.5 562.6L1105.8 563.7L1106.1 563.7L1107.2 563.4L1108.5 561.9L1109.8 561.3L1109.9 560.4L1111.2 561.2L1112.6 562.3L1113.5 562.9L1113.9 562.5L1115.3 560.2L1116.5 557.3L1116.6 557.3L1118.0 561.7L1119.3 564.6L1119.7 565.4L1120.7 564.4L1122.0 563.2L1123.4 562.2L1124.7 560.0L1125.4 558.8L1126.1 560.9L1127.1 562.9L1127.4 562.0L1128.8 558.6L1128.9 557.9L1130.1 554.2L1131.3 550.7L1131.5 550.3L1132.8 552.6L1134.2 554.8L1134.5 554.8L1135.5 555.4L1136.9 558.3L1138.2 560.4L1139.6 559.0L1140.9 558.6L1141.9 556.8L1142.3 558.1L1143.6 558.5L1145.0 561.3L1145.6 561.2L1146.3 561.5L1147.7 559.7L1149.0 559.4L1149.3 559.3L1150.4 557.0L1151.1 556.8L1151.7 558.6L1153.1 561.0L1154.3 563.0L1154.4 563.8L1155.8 564.3L1157.1 564.6L1158.0 564.7L1158.5 564.0L1159.8 560.7L1161.0 558.2L1161.2 558.2L1162.5 564.0L1162.9 565.3L1163.9 562.0L1165.2 559.0L1165.4 559.3L1166.6 560.2L1167.9 559.2L1169.1 560.5L1169.3 559.5L1170.6 558.7L1172.0 559.3L1172.8 558.0L1173.3 558.4L1174.7 560.9L1175.3 562.9L1176.0 562.6L1177.4 559.0L1177.7 559.3L1178.7 561.4L1180.1 563.1L1181.4 564.6L1182.8 563.8L1184.1 562.6L1185.1 560.5L1185.5 560.4L1186.8 560.1L1188.1 558.8L1188.2 558.0L1189.5 561.7L1190.9 563.5L1191.3 564.2L1192.2 564.6L1193.6 560.9L1194.9 562.9L1195.0 561.7L1196.3 549.3L1197.6 547.9L1198.2 544.5L1199.0 546.3L1200.0 553.0L1200.3 551.7L1201.7 550.1L1201.9 549.5L1203.0 552.2L1204.4 551.3L1204.9 553.1L1205.7 551.3L1207.1 550.9L1207.4 551.9L1208.4 554.1L1209.8 557.0L1211.1 558.1L1212.5 560.6L1212.8 561.7L1213.8 556.2L1215.2 549.3L1215.3 549.2L1216.5 540.7L1217.2 536.8L1217.9 544.8L1219.0 559.2L1219.2 556.4L1220.6 552.2L1221.0 550.9L1221.9 558.1L1222.7 560.5L1223.3 559.4L1224.6 559.4L1225.9 556.8L1226.0 555.1L1227.3 555.2L1227.6 553.9L1228.7 557.9L1229.6 559.2L1230.0 558.2L1230.8 553.9L1231.4 555.4L1232.7 558.8L1233.3 560.5L1234.1 560.1L1235.4 559.5L1236.5 556.3L1236.8 554.2L1238.1 551.7L1238.7 552.4L1239.5 556.1L1240.7 559.2L1240.8 560.8L1242.2 555.5L1242.4 554.9L1243.5 554.8L1244.9 556.3L1245.6 555.5L1246.2 552.8L1247.6 549.6L1248.1 549.4L1248.9 549.2L1250.3 553.0L1250.6 553.0L1251.6 549.8L1252.3 548.9L1253.0 549.7L1254.3 555.4L1255.5 558.0L1255.7 560.1L1257.0 557.9L1258.0 559.2L1258.4 559.5L1259.7 556.3L1260.5 555.7L1261.1 558.9L1262.2 560.4L1262.4 559.2L1263.8 546.8L1264.2 545.1L1265.1 547.6L1266.1 552.9L1266.5 549.2L1267.8 544.7L1267.9 544.6L1269.2 551.3L1270.3 557.8L1270.5 554.7L1271.9 540.2L1272.1 539.2L1273.2 543.0L1274.5 549.3L1274.6 550.6L1275.9 548.5L1277.0 550.6L1277.3 554.1L1278.6 557.5L1279.0 559.1L1280.0 553.9L1281.0 548.0L1281.3 547.2L1282.7 544.1L1284.0 556.5L1284.7 560.2L1285.4 556.9L1286.7 547.1L1286.9 545.7L1288.1 544.8L1288.9 544.5L1289.4 546.2L1290.8 548.9L1291.3 548.1L1292.1 551.2L1293.5 559.0L1293.8 559.2L1294.8 556.9L1295.8 550.6L1296.2 550.8L1297.5 551.8L1298.7 539.3L1298.9 538.8L1300.2 546.5L1300.7 550.6L1301.6 555.2L1302.9 560.2L1303.2 560.4L1304.3 557.7L1304.9 553.1L1305.6 556.4L1307.0 557.2L1307.4 559.2L1308.3 555.9L1309.7 553.2L1310.6 552.5L1311.0 553.5L1312.3 562.9L1312.4 563.5L1313.7 558.6L1314.0 555.7L1315.1 558.6L1316.0 558.0L1316.4 555.3L1317.8 551.8L1318.0 549.4L1319.1 552.7L1320.5 558.5L1321.0 560.5L1321.8 560.8L1323.2 556.7L1324.5 555.6L1324.7 557.3L1325.9 559.0L1327.2 556.9L1328.4 557.9L1328.6 556.7L1329.9 554.0L1330.1 553.2L1331.3 562.8L1332.6 560.1L1333.3 557.3L1334.0 556.0L1335.3 559.2L1335.8 560.5L1336.7 559.0L1337.7 558.1" fill="none" stroke="#7593d6" stroke-width="0.95" stroke-linejoin="round"/>
<rect x="843.2" y="536" width="11.8" height="21.5" rx="4.5" fill="#3b3e47"/>
<path d="M847.6 543.3v7.7M850.5 543.3v7.7" stroke="#d2d4da" stroke-width="1"/>
<rect x="1331.3" y="536" width="11.8" height="21.5" rx="4.5" fill="#3b3e47"/>
<path d="M1335.8 543.3v7.7M1338.5 543.3v7.7" stroke="#d2d4da" stroke-width="1"/>
</svg>
<div class="title">Cryptocurrency Volume History</div>
<div class="btn"><span>Line</span><svg width="12" height="20" viewBox="0 0 12 20"><path d="M2.6 5.6L5.9 2.3L9.2 5.6M2.6 13L5.9 16.3L9.2 13" fill="none" stroke="#b4b7be" stroke-width="1.5" stroke-linecap="round" stroke-linejoin="round"/></svg></div>
<div class="sq" style="left:562.2px;background:#44cc83"></div><div class="lg" style="left:581.5px">Futures Volume</div>
<div class="sq" style="left:703.4px;background:#ffa20e"></div><div class="lg" style="left:722px">Spot Volume</div>
</body></html>
